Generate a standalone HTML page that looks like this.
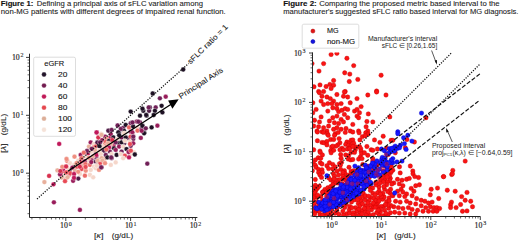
<!DOCTYPE html>
<html><head><meta charset="utf-8"><style>
html,body{margin:0;padding:0;background:#fff;width:520px;height:241px;overflow:hidden}
svg{display:block}
</style></head><body>
<svg width="520" height="241" viewBox="0 0 520 241">
<rect width="520" height="241" fill="#fff"/>
<text x="0.80" y="5.90" font-size="6.3" font-family='"Liberation Sans", sans-serif' fill="#111" textLength="32.60" lengthAdjust="spacingAndGlyphs" font-weight="bold" stroke="#111" stroke-width="0.12">Figure 1:</text>
<text x="36.70" y="5.90" font-size="6.3" font-family='"Liberation Sans", sans-serif' fill="#222" textLength="166.30" lengthAdjust="spacingAndGlyphs" stroke="#222" stroke-width="0.08">Defining a principal axis of sFLC variation among</text>
<text x="0.80" y="14.20" font-size="6.3" font-family='"Liberation Sans", sans-serif' fill="#222" textLength="225.00" lengthAdjust="spacingAndGlyphs" stroke="#222" stroke-width="0.08">non-MG patients with different degrees of impaired renal function.</text>
<text x="283.20" y="5.90" font-size="6.3" font-family='"Liberation Sans", sans-serif' fill="#111" textLength="33.50" lengthAdjust="spacingAndGlyphs" font-weight="bold" stroke="#111" stroke-width="0.12">Figure 2:</text>
<text x="319.20" y="5.90" font-size="6.3" font-family='"Liberation Sans", sans-serif' fill="#222" textLength="180.50" lengthAdjust="spacingAndGlyphs" stroke="#222" stroke-width="0.08">Comparing the proposed metric based interval to the</text>
<text x="283.20" y="14.20" font-size="6.3" font-family='"Liberation Sans", sans-serif' fill="#222" textLength="235.30" lengthAdjust="spacingAndGlyphs" stroke="#222" stroke-width="0.08">manufacturer's suggested sFLC ratio based interval for MG diagnosis.</text>
<defs><clipPath id="rclip"><rect x="312.2" y="52.4" width="168.2" height="163.7"/></clipPath><clipPath id="lclip"><rect x="30" y="53.7" width="167.4" height="163.4"/></clipPath></defs>
<g stroke="#fff" stroke-width="0.35">
<circle cx="49.1" cy="175.9" r="2.4" fill="#d8304f"/>
<circle cx="44.4" cy="182.1" r="2.4" fill="#e8b09c"/>
<circle cx="105.4" cy="146.6" r="2.4" fill="#c0185a"/>
<circle cx="53.5" cy="184.3" r="2.4" fill="#c0185a"/>
<circle cx="57.4" cy="170.4" r="2.4" fill="#e8b09c"/>
<circle cx="63.2" cy="170.2" r="2.4" fill="#c0185a"/>
<circle cx="67.3" cy="161.2" r="2.4" fill="#ef8f80"/>
<circle cx="76.2" cy="167.1" r="2.4" fill="#e84a55"/>
<circle cx="65.9" cy="178.6" r="2.4" fill="#e8b09c"/>
<circle cx="69.4" cy="174.6" r="2.4" fill="#e84a55"/>
<circle cx="69.4" cy="170.4" r="2.4" fill="#4d1b45"/>
<circle cx="53.9" cy="202.3" r="2.4" fill="#981c5a"/>
<circle cx="124.1" cy="143.4" r="2.4" fill="#4d1b45"/>
<circle cx="59.2" cy="143.9" r="2.4" fill="#c0185a"/>
<circle cx="66.5" cy="159.0" r="2.4" fill="#ef8f80"/>
<circle cx="90.7" cy="142.5" r="2.4" fill="#981c5a"/>
<circle cx="94.0" cy="144.1" r="2.4" fill="#f5d6ca"/>
<circle cx="97.3" cy="142.5" r="2.4" fill="#4d1b45"/>
<circle cx="118.7" cy="142.8" r="2.4" fill="#1e1124"/>
<circle cx="89.0" cy="146.6" r="2.4" fill="#e8b09c"/>
<circle cx="94.0" cy="147.5" r="2.4" fill="#ec6a66"/>
<circle cx="80.7" cy="154.9" r="2.4" fill="#981c5a"/>
<circle cx="84.9" cy="156.6" r="2.4" fill="#f5d6ca"/>
<circle cx="88.2" cy="153.3" r="2.4" fill="#c0185a"/>
<circle cx="91.5" cy="151.6" r="2.4" fill="#f5d6ca"/>
<circle cx="96.5" cy="158.2" r="2.4" fill="#701f57"/>
<circle cx="95.7" cy="154.1" r="2.4" fill="#701f57"/>
<circle cx="79.4" cy="163.8" r="2.4" fill="#c0185a"/>
<circle cx="98.2" cy="151.6" r="2.4" fill="#f5d6ca"/>
<circle cx="78.3" cy="160.7" r="2.4" fill="#f5d6ca"/>
<circle cx="81.6" cy="161.6" r="2.4" fill="#d8304f"/>
<circle cx="87.4" cy="160.7" r="2.4" fill="#f5d6ca"/>
<circle cx="91.5" cy="159.1" r="2.4" fill="#981c5a"/>
<circle cx="95.7" cy="161.6" r="2.4" fill="#4d1b45"/>
<circle cx="104.7" cy="144.1" r="2.4" fill="#ef8f80"/>
<circle cx="99.0" cy="159.9" r="2.4" fill="#e8b09c"/>
<circle cx="81.4" cy="158.2" r="2.4" fill="#ec6a66"/>
<circle cx="70.0" cy="163.2" r="2.4" fill="#f5d6ca"/>
<circle cx="74.1" cy="164.9" r="2.4" fill="#f5d6ca"/>
<circle cx="76.6" cy="163.2" r="2.4" fill="#ef8f80"/>
<circle cx="123.2" cy="127.8" r="2.4" fill="#701f57"/>
<circle cx="83.2" cy="165.7" r="2.4" fill="#e8b09c"/>
<circle cx="89.9" cy="164.9" r="2.4" fill="#ec6a66"/>
<circle cx="62.2" cy="173.1" r="2.4" fill="#d8304f"/>
<circle cx="94.0" cy="166.6" r="2.4" fill="#f5d6ca"/>
<circle cx="97.3" cy="164.9" r="2.4" fill="#701f57"/>
<circle cx="68.3" cy="169.0" r="2.4" fill="#f5d6ca"/>
<circle cx="74.9" cy="170.7" r="2.4" fill="#e8b09c"/>
<circle cx="110.2" cy="137.6" r="2.4" fill="#c0185a"/>
<circle cx="81.6" cy="169.0" r="2.4" fill="#e84a55"/>
<circle cx="85.7" cy="170.7" r="2.4" fill="#ef8f80"/>
<circle cx="90.7" cy="169.9" r="2.4" fill="#f5d6ca"/>
<circle cx="62.3" cy="166.9" r="2.4" fill="#ef8f80"/>
<circle cx="95.7" cy="168.2" r="2.4" fill="#f5d6ca"/>
<circle cx="99.0" cy="169.9" r="2.4" fill="#ef8f80"/>
<circle cx="65.0" cy="174.9" r="2.4" fill="#f5d6ca"/>
<circle cx="128.3" cy="138.4" r="2.4" fill="#701f57"/>
<circle cx="70.0" cy="173.2" r="2.4" fill="#e84a55"/>
<circle cx="74.1" cy="174.0" r="2.4" fill="#c0185a"/>
<circle cx="79.9" cy="174.0" r="2.4" fill="#f5d6ca"/>
<circle cx="84.9" cy="175.7" r="2.4" fill="#ec6a66"/>
<circle cx="101.8" cy="149.3" r="2.4" fill="#1e1124"/>
<circle cx="89.9" cy="174.9" r="2.4" fill="#f5d6ca"/>
<circle cx="84.7" cy="161.4" r="2.4" fill="#981c5a"/>
<circle cx="78.3" cy="178.6" r="2.4" fill="#4d1b45"/>
<circle cx="67.5" cy="177.3" r="2.4" fill="#e8b09c"/>
<circle cx="93.2" cy="177.3" r="2.4" fill="#f5d6ca"/>
<circle cx="61.7" cy="177.5" r="2.4" fill="#e8b09c"/>
<circle cx="79.9" cy="209.9" r="2.4" fill="#981c5a"/>
<circle cx="96.7" cy="132.5" r="2.4" fill="#981c5a"/>
<circle cx="73.1" cy="180.8" r="2.4" fill="#981c5a"/>
<circle cx="101.6" cy="134.1" r="2.4" fill="#f5d6ca"/>
<circle cx="109.1" cy="130.8" r="2.4" fill="#701f57"/>
<circle cx="110.8" cy="134.1" r="2.4" fill="#981c5a"/>
<circle cx="119.1" cy="132.5" r="2.4" fill="#4d1b45"/>
<circle cx="124.0" cy="130.8" r="2.4" fill="#1e1124"/>
<circle cx="124.9" cy="134.1" r="2.4" fill="#f5d6ca"/>
<circle cx="88.9" cy="157.8" r="2.4" fill="#ef8f80"/>
<circle cx="130.7" cy="131.7" r="2.4" fill="#981c5a"/>
<circle cx="133.2" cy="135.0" r="2.4" fill="#f5d6ca"/>
<circle cx="98.3" cy="137.5" r="2.4" fill="#d8304f"/>
<circle cx="72.4" cy="167.6" r="2.4" fill="#981c5a"/>
<circle cx="104.6" cy="158.7" r="2.4" fill="#e8b09c"/>
<circle cx="105.0" cy="136.6" r="2.4" fill="#981c5a"/>
<circle cx="102.1" cy="140.1" r="2.4" fill="#981c5a"/>
<circle cx="78.2" cy="171.8" r="2.4" fill="#ef8f80"/>
<circle cx="113.3" cy="137.5" r="2.4" fill="#1e1124"/>
<circle cx="117.4" cy="139.1" r="2.4" fill="#f5d6ca"/>
<circle cx="121.6" cy="137.5" r="2.4" fill="#701f57"/>
<circle cx="125.7" cy="137.5" r="2.4" fill="#1e1124"/>
<circle cx="130.7" cy="136.6" r="2.4" fill="#e84a55"/>
<circle cx="106.4" cy="138.9" r="2.4" fill="#ef8f80"/>
<circle cx="133.2" cy="139.1" r="2.4" fill="#701f57"/>
<circle cx="100.0" cy="142.4" r="2.4" fill="#701f57"/>
<circle cx="105.8" cy="141.6" r="2.4" fill="#ec6a66"/>
<circle cx="113.5" cy="145.5" r="2.4" fill="#c0185a"/>
<circle cx="85.5" cy="164.1" r="2.4" fill="#ec6a66"/>
<circle cx="74.0" cy="177.9" r="2.4" fill="#c0185a"/>
<circle cx="60.0" cy="174.4" r="2.4" fill="#981c5a"/>
<circle cx="109.1" cy="140.8" r="2.4" fill="#1e1124"/>
<circle cx="110.8" cy="144.1" r="2.4" fill="#e8b09c"/>
<circle cx="115.7" cy="142.4" r="2.4" fill="#701f57"/>
<circle cx="121.6" cy="142.4" r="2.4" fill="#1e1124"/>
<circle cx="91.3" cy="162.1" r="2.4" fill="#981c5a"/>
<circle cx="124.9" cy="140.8" r="2.4" fill="#f5d6ca"/>
<circle cx="129.9" cy="141.6" r="2.4" fill="#f5d6ca"/>
<circle cx="133.2" cy="143.3" r="2.4" fill="#981c5a"/>
<circle cx="95.8" cy="146.6" r="2.4" fill="#e84a55"/>
<circle cx="102.5" cy="146.6" r="2.4" fill="#f5d6ca"/>
<circle cx="109.1" cy="147.4" r="2.4" fill="#c0185a"/>
<circle cx="99.5" cy="146.2" r="2.4" fill="#1e1124"/>
<circle cx="114.1" cy="148.3" r="2.4" fill="#1e1124"/>
<circle cx="119.1" cy="146.6" r="2.4" fill="#981c5a"/>
<circle cx="123.2" cy="146.6" r="2.4" fill="#f5d6ca"/>
<circle cx="117.6" cy="125.4" r="2.4" fill="#701f57"/>
<circle cx="126.5" cy="149.1" r="2.4" fill="#1e1124"/>
<circle cx="130.7" cy="145.8" r="2.4" fill="#701f57"/>
<circle cx="93.2" cy="156.1" r="2.4" fill="#e8b09c"/>
<circle cx="99.1" cy="150.7" r="2.4" fill="#f5d6ca"/>
<circle cx="104.1" cy="150.7" r="2.4" fill="#4d1b45"/>
<circle cx="109.9" cy="151.6" r="2.4" fill="#701f57"/>
<circle cx="115.7" cy="149.9" r="2.4" fill="#981c5a"/>
<circle cx="121.6" cy="151.6" r="2.4" fill="#701f57"/>
<circle cx="74.5" cy="156.7" r="2.4" fill="#ef8f80"/>
<circle cx="129.0" cy="151.6" r="2.4" fill="#e84a55"/>
<circle cx="134.0" cy="152.4" r="2.4" fill="#f5d6ca"/>
<circle cx="96.7" cy="154.9" r="2.4" fill="#c0185a"/>
<circle cx="100.8" cy="154.1" r="2.4" fill="#f5d6ca"/>
<circle cx="105.8" cy="154.9" r="2.4" fill="#701f57"/>
<circle cx="111.6" cy="154.1" r="2.4" fill="#f5d6ca"/>
<circle cx="116.6" cy="154.9" r="2.4" fill="#1e1124"/>
<circle cx="120.7" cy="154.1" r="2.4" fill="#f5d6ca"/>
<circle cx="124.9" cy="155.7" r="2.4" fill="#e84a55"/>
<circle cx="129.9" cy="154.9" r="2.4" fill="#f5d6ca"/>
<circle cx="101.6" cy="158.2" r="2.4" fill="#e8b09c"/>
<circle cx="87.0" cy="151.0" r="2.4" fill="#701f57"/>
<circle cx="66.1" cy="166.5" r="2.4" fill="#d8304f"/>
<circle cx="107.4" cy="157.4" r="2.4" fill="#1e1124"/>
<circle cx="111.6" cy="158.2" r="2.4" fill="#701f57"/>
<circle cx="123.2" cy="158.2" r="2.4" fill="#f5d6ca"/>
<circle cx="129.0" cy="157.4" r="2.4" fill="#c0185a"/>
<circle cx="134.8" cy="154.5" r="2.4" fill="#1e1124"/>
<circle cx="97.5" cy="160.7" r="2.4" fill="#e8b09c"/>
<circle cx="102.5" cy="160.7" r="2.4" fill="#e8b09c"/>
<circle cx="105.0" cy="163.2" r="2.4" fill="#ef8f80"/>
<circle cx="100.0" cy="164.0" r="2.4" fill="#e84a55"/>
<circle cx="96.7" cy="165.7" r="2.4" fill="#f5d6ca"/>
<circle cx="108.0" cy="143.2" r="2.4" fill="#e8b09c"/>
<circle cx="101.6" cy="167.3" r="2.4" fill="#701f57"/>
<circle cx="110.8" cy="164.9" r="2.4" fill="#f5d6ca"/>
<circle cx="115.7" cy="162.4" r="2.4" fill="#f5d6ca"/>
<circle cx="147.3" cy="163.7" r="2.4" fill="#701f57"/>
<circle cx="128.6" cy="152.0" r="2.4" fill="#981c5a"/>
<circle cx="101.2" cy="167.4" r="2.4" fill="#701f57"/>
<circle cx="94.9" cy="150.0" r="2.4" fill="#e8b09c"/>
<circle cx="111.2" cy="157.5" r="2.4" fill="#701f57"/>
<circle cx="130.7" cy="111.6" r="2.4" fill="#1e1124"/>
<circle cx="125.7" cy="124.9" r="2.4" fill="#1e1124"/>
<circle cx="130.7" cy="123.2" r="2.4" fill="#701f57"/>
<circle cx="129.0" cy="127.4" r="2.4" fill="#ec6a66"/>
<circle cx="133.2" cy="126.5" r="2.4" fill="#1e1124"/>
<circle cx="137.3" cy="127.4" r="2.4" fill="#f5d6ca"/>
<circle cx="120.7" cy="129.0" r="2.4" fill="#701f57"/>
<circle cx="108.3" cy="130.7" r="2.4" fill="#4d1b45"/>
<circle cx="111.6" cy="129.9" r="2.4" fill="#701f57"/>
<circle cx="118.3" cy="132.3" r="2.4" fill="#1e1124"/>
<circle cx="124.1" cy="133.2" r="2.4" fill="#f5d6ca"/>
<circle cx="132.4" cy="132.3" r="2.4" fill="#981c5a"/>
<circle cx="100.8" cy="134.0" r="2.4" fill="#f5d6ca"/>
<circle cx="119.2" cy="135.2" r="2.4" fill="#1e1124"/>
<circle cx="96.6" cy="132.4" r="2.4" fill="#c0185a"/>
<circle cx="101.5" cy="134.9" r="2.4" fill="#e8b09c"/>
<circle cx="159.9" cy="98.3" r="2.4" fill="#701f57"/>
<circle cx="165.7" cy="96.7" r="2.4" fill="#981c5a"/>
<circle cx="161.6" cy="105.8" r="2.4" fill="#1e1124"/>
<circle cx="149.9" cy="107.4" r="2.4" fill="#4d1b45"/>
<circle cx="155.7" cy="107.4" r="2.4" fill="#701f57"/>
<circle cx="143.3" cy="110.8" r="2.4" fill="#1e1124"/>
<circle cx="149.1" cy="110.8" r="2.4" fill="#4d1b45"/>
<circle cx="79.8" cy="166.7" r="2.4" fill="#d8304f"/>
<circle cx="154.9" cy="110.8" r="2.4" fill="#1e1124"/>
<circle cx="91.7" cy="148.8" r="2.4" fill="#701f57"/>
<circle cx="162.4" cy="112.4" r="2.4" fill="#1e1124"/>
<circle cx="140.0" cy="115.7" r="2.4" fill="#1e1124"/>
<circle cx="146.6" cy="115.7" r="2.4" fill="#1e1124"/>
<circle cx="112.2" cy="140.0" r="2.4" fill="#d8304f"/>
<circle cx="136.7" cy="121.6" r="2.4" fill="#981c5a"/>
<circle cx="65.0" cy="181.2" r="2.4" fill="#e84a55"/>
<circle cx="140.0" cy="122.4" r="2.4" fill="#701f57"/>
<circle cx="60.3" cy="171.1" r="2.4" fill="#d8304f"/>
<circle cx="142.5" cy="125.7" r="2.4" fill="#4d1b45"/>
<circle cx="151.6" cy="127.4" r="2.4" fill="#1e1124"/>
<circle cx="157.4" cy="125.7" r="2.4" fill="#981c5a"/>
<circle cx="137.5" cy="130.7" r="2.4" fill="#ec6a66"/>
<circle cx="141.6" cy="129.0" r="2.4" fill="#701f57"/>
<circle cx="144.1" cy="132.3" r="2.4" fill="#1e1124"/>
<circle cx="183.2" cy="69.5" r="2.4" fill="#1e1124"/>
<circle cx="152.7" cy="93.5" r="2.4" fill="#1e1124"/>
<circle cx="106.4" cy="149.5" r="2.4" fill="#ec6a66"/>
<circle cx="83.8" cy="152.7" r="2.4" fill="#ec6a66"/>
<circle cx="142.5" cy="108.7" r="2.4" fill="#1e1124"/>
<circle cx="85.6" cy="166.9" r="2.4" fill="#e84a55"/>
<circle cx="148.7" cy="107.4" r="2.4" fill="#701f57"/>
<circle cx="146.2" cy="115.0" r="2.4" fill="#1e1124"/>
<circle cx="66.3" cy="172.4" r="2.4" fill="#e84a55"/>
<circle cx="153.7" cy="115.0" r="2.4" fill="#1e1124"/>
<circle cx="140.8" cy="137.9" r="2.4" fill="#981c5a"/>
<circle cx="144.1" cy="133.3" r="2.4" fill="#1e1124"/>
<circle cx="141.6" cy="130.8" r="2.4" fill="#981c5a"/>
<circle cx="133.3" cy="136.6" r="2.4" fill="#701f57"/>
<circle cx="130.0" cy="144.1" r="2.4" fill="#e84a55"/>
<circle cx="130.8" cy="150.7" r="2.4" fill="#e84a55"/>
<circle cx="132.5" cy="122.5" r="2.4" fill="#701f57"/>
<circle cx="138.3" cy="121.7" r="2.4" fill="#701f57"/>
<circle cx="142.4" cy="125.8" r="2.4" fill="#1e1124"/>
<circle cx="145.8" cy="128.3" r="2.4" fill="#701f57"/>
</g>
<line x1="37.00" y1="198.93" x2="188.60" y2="63.48" stroke="#111" stroke-width="1.3" stroke-dasharray="1.2 1.4"/>
<text font-size="7.6" font-family='"Liberation Sans", sans-serif' fill="#1a1a1a" stroke="#1a1a1a" stroke-width="0.1" textLength="53" lengthAdjust="spacingAndGlyphs" transform="translate(190.6 64.6) rotate(-44.5)">sFLC ratio = 1</text>
<line x1="68.6" y1="170.7" x2="171.5" y2="104.0" stroke="#000" stroke-width="1.3"/>
<path d="M178.7 99.3 L168.1 100.6 L172.4 108.7 Z" fill="#000"/>
<text font-size="7.6" font-family='"Liberation Sans", sans-serif' fill="#1a1a1a" stroke="#1a1a1a" stroke-width="0.1" textLength="51" lengthAdjust="spacingAndGlyphs" transform="translate(180.8 99.2) rotate(-33)">Principal Axis</text>
<g clip-path="url(#rclip)">
<circle cx="331.1" cy="54.5" r="2.2" fill="#fa1414" stroke="#c80000" stroke-width="0.4"/>
<circle cx="336.9" cy="53.3" r="2.2" fill="#fa1414" stroke="#c80000" stroke-width="0.4"/>
<circle cx="346.9" cy="58.3" r="2.2" fill="#fa1414" stroke="#c80000" stroke-width="0.4"/>
<circle cx="312.0" cy="63.6" r="2.2" fill="#fa1414" stroke="#c80000" stroke-width="0.4"/>
<circle cx="323.6" cy="63.6" r="2.2" fill="#fa1414" stroke="#c80000" stroke-width="0.4"/>
<circle cx="319.0" cy="71.1" r="2.2" fill="#fa1414" stroke="#c80000" stroke-width="0.4"/>
<circle cx="344.7" cy="72.8" r="2.2" fill="#fa1414" stroke="#c80000" stroke-width="0.4"/>
<circle cx="349.8" cy="74.1" r="2.2" fill="#fa1414" stroke="#c80000" stroke-width="0.4"/>
<circle cx="333.6" cy="80.5" r="2.2" fill="#fa1414" stroke="#c80000" stroke-width="0.4"/>
<circle cx="349.3" cy="81.5" r="2.2" fill="#fa1414" stroke="#c80000" stroke-width="0.4"/>
<circle cx="314.0" cy="86.8" r="2.2" fill="#fa1414" stroke="#c80000" stroke-width="0.4"/>
<circle cx="320.0" cy="84.9" r="2.2" fill="#fa1414" stroke="#c80000" stroke-width="0.4"/>
<circle cx="326.1" cy="86.5" r="2.2" fill="#fa1414" stroke="#c80000" stroke-width="0.4"/>
<circle cx="329.9" cy="84.4" r="2.2" fill="#fa1414" stroke="#c80000" stroke-width="0.4"/>
<circle cx="333.6" cy="85.2" r="2.2" fill="#fa1414" stroke="#c80000" stroke-width="0.4"/>
<circle cx="331.1" cy="88.5" r="2.2" fill="#fa1414" stroke="#c80000" stroke-width="0.4"/>
<circle cx="318.6" cy="91.5" r="2.2" fill="#fa1414" stroke="#c80000" stroke-width="0.4"/>
<circle cx="323.6" cy="91.5" r="2.2" fill="#fa1414" stroke="#c80000" stroke-width="0.4"/>
<circle cx="345.2" cy="91.5" r="2.2" fill="#fa1414" stroke="#c80000" stroke-width="0.4"/>
<circle cx="353.7" cy="65.6" r="2.2" fill="#fa1414" stroke="#c80000" stroke-width="0.4"/>
<circle cx="357.8" cy="79.4" r="2.2" fill="#fa1414" stroke="#c80000" stroke-width="0.4"/>
<circle cx="381.1" cy="75.2" r="2.2" fill="#fa1414" stroke="#c80000" stroke-width="0.4"/>
<circle cx="376.6" cy="91.0" r="2.2" fill="#fa1414" stroke="#c80000" stroke-width="0.4"/>
<circle cx="319.5" cy="92.8" r="2.2" fill="#fa1414" stroke="#c80000" stroke-width="0.4"/>
<circle cx="322.0" cy="96.2" r="2.2" fill="#fa1414" stroke="#c80000" stroke-width="0.4"/>
<circle cx="336.9" cy="94.5" r="2.2" fill="#fa1414" stroke="#c80000" stroke-width="0.4"/>
<circle cx="344.4" cy="92.0" r="2.2" fill="#fa1414" stroke="#c80000" stroke-width="0.4"/>
<circle cx="343.5" cy="96.2" r="2.2" fill="#fa1414" stroke="#c80000" stroke-width="0.4"/>
<circle cx="347.7" cy="97.0" r="2.2" fill="#fa1414" stroke="#c80000" stroke-width="0.4"/>
<circle cx="312.8" cy="102.8" r="2.2" fill="#fa1414" stroke="#c80000" stroke-width="0.4"/>
<circle cx="321.1" cy="101.1" r="2.2" fill="#fa1414" stroke="#c80000" stroke-width="0.4"/>
<circle cx="326.9" cy="97.0" r="2.2" fill="#fa1414" stroke="#c80000" stroke-width="0.4"/>
<circle cx="330.3" cy="98.6" r="2.2" fill="#fa1414" stroke="#c80000" stroke-width="0.4"/>
<circle cx="333.6" cy="101.1" r="2.2" fill="#fa1414" stroke="#c80000" stroke-width="0.4"/>
<circle cx="323.6" cy="104.5" r="2.2" fill="#fa1414" stroke="#c80000" stroke-width="0.4"/>
<circle cx="327.8" cy="103.6" r="2.2" fill="#fa1414" stroke="#c80000" stroke-width="0.4"/>
<circle cx="331.9" cy="103.6" r="2.2" fill="#fa1414" stroke="#c80000" stroke-width="0.4"/>
<circle cx="336.9" cy="104.5" r="2.2" fill="#fa1414" stroke="#c80000" stroke-width="0.4"/>
<circle cx="341.1" cy="103.6" r="2.2" fill="#fa1414" stroke="#c80000" stroke-width="0.4"/>
<circle cx="350.2" cy="102.8" r="2.2" fill="#fa1414" stroke="#c80000" stroke-width="0.4"/>
<circle cx="316.1" cy="109.4" r="2.2" fill="#fa1414" stroke="#c80000" stroke-width="0.4"/>
<circle cx="312.8" cy="112.8" r="2.2" fill="#fa1414" stroke="#c80000" stroke-width="0.4"/>
<circle cx="327.8" cy="111.1" r="2.2" fill="#fa1414" stroke="#c80000" stroke-width="0.4"/>
<circle cx="332.8" cy="107.8" r="2.2" fill="#fa1414" stroke="#c80000" stroke-width="0.4"/>
<circle cx="336.9" cy="108.6" r="2.2" fill="#fa1414" stroke="#c80000" stroke-width="0.4"/>
<circle cx="338.6" cy="111.6" r="2.2" fill="#fa1414" stroke="#c80000" stroke-width="0.4"/>
<circle cx="341.9" cy="110.3" r="2.2" fill="#fa1414" stroke="#c80000" stroke-width="0.4"/>
<circle cx="345.2" cy="108.6" r="2.2" fill="#fa1414" stroke="#c80000" stroke-width="0.4"/>
<circle cx="347.7" cy="109.4" r="2.2" fill="#fa1414" stroke="#c80000" stroke-width="0.4"/>
<circle cx="344.4" cy="114.4" r="2.2" fill="#fa1414" stroke="#c80000" stroke-width="0.4"/>
<circle cx="321.1" cy="116.9" r="2.2" fill="#fa1414" stroke="#c80000" stroke-width="0.4"/>
<circle cx="332.8" cy="117.7" r="2.2" fill="#fa1414" stroke="#c80000" stroke-width="0.4"/>
<circle cx="336.9" cy="116.1" r="2.2" fill="#fa1414" stroke="#c80000" stroke-width="0.4"/>
<circle cx="341.1" cy="119.4" r="2.2" fill="#fa1414" stroke="#c80000" stroke-width="0.4"/>
<circle cx="347.7" cy="117.7" r="2.2" fill="#fa1414" stroke="#c80000" stroke-width="0.4"/>
<circle cx="314.5" cy="120.2" r="2.2" fill="#fa1414" stroke="#c80000" stroke-width="0.4"/>
<circle cx="319.5" cy="121.9" r="2.2" fill="#fa1414" stroke="#c80000" stroke-width="0.4"/>
<circle cx="329.4" cy="121.0" r="2.2" fill="#fa1414" stroke="#c80000" stroke-width="0.4"/>
<circle cx="334.4" cy="122.7" r="2.2" fill="#fa1414" stroke="#c80000" stroke-width="0.4"/>
<circle cx="338.6" cy="123.5" r="2.2" fill="#fa1414" stroke="#c80000" stroke-width="0.4"/>
<circle cx="343.5" cy="121.9" r="2.2" fill="#fa1414" stroke="#c80000" stroke-width="0.4"/>
<circle cx="313.7" cy="126.0" r="2.2" fill="#fa1414" stroke="#c80000" stroke-width="0.4"/>
<circle cx="318.6" cy="126.8" r="2.2" fill="#fa1414" stroke="#c80000" stroke-width="0.4"/>
<circle cx="323.6" cy="127.7" r="2.2" fill="#fa1414" stroke="#c80000" stroke-width="0.4"/>
<circle cx="328.6" cy="126.0" r="2.2" fill="#fa1414" stroke="#c80000" stroke-width="0.4"/>
<circle cx="333.6" cy="129.3" r="2.2" fill="#fa1414" stroke="#c80000" stroke-width="0.4"/>
<circle cx="336.9" cy="127.7" r="2.2" fill="#fa1414" stroke="#c80000" stroke-width="0.4"/>
<circle cx="341.1" cy="129.3" r="2.2" fill="#fa1414" stroke="#c80000" stroke-width="0.4"/>
<circle cx="346.0" cy="128.5" r="2.2" fill="#fa1414" stroke="#c80000" stroke-width="0.4"/>
<circle cx="350.2" cy="131.0" r="2.2" fill="#fa1414" stroke="#c80000" stroke-width="0.4"/>
<circle cx="317.0" cy="131.0" r="2.2" fill="#fa1414" stroke="#c80000" stroke-width="0.4"/>
<circle cx="326.9" cy="131.0" r="2.2" fill="#fa1414" stroke="#c80000" stroke-width="0.4"/>
<circle cx="322.0" cy="131.8" r="2.2" fill="#fa1414" stroke="#c80000" stroke-width="0.4"/>
<circle cx="367.8" cy="95.0" r="2.2" fill="#fa1414" stroke="#c80000" stroke-width="0.4"/>
<circle cx="376.6" cy="92.0" r="2.2" fill="#fa1414" stroke="#c80000" stroke-width="0.4"/>
<circle cx="386.0" cy="95.0" r="2.2" fill="#fa1414" stroke="#c80000" stroke-width="0.4"/>
<circle cx="357.0" cy="98.6" r="2.2" fill="#fa1414" stroke="#c80000" stroke-width="0.4"/>
<circle cx="361.1" cy="106.6" r="2.2" fill="#fa1414" stroke="#c80000" stroke-width="0.4"/>
<circle cx="354.5" cy="111.1" r="2.2" fill="#fa1414" stroke="#c80000" stroke-width="0.4"/>
<circle cx="357.0" cy="109.4" r="2.2" fill="#fa1414" stroke="#c80000" stroke-width="0.4"/>
<circle cx="359.5" cy="112.8" r="2.2" fill="#fa1414" stroke="#c80000" stroke-width="0.4"/>
<circle cx="357.0" cy="116.1" r="2.2" fill="#fa1414" stroke="#c80000" stroke-width="0.4"/>
<circle cx="358.6" cy="117.7" r="2.2" fill="#fa1414" stroke="#c80000" stroke-width="0.4"/>
<circle cx="368.3" cy="113.9" r="2.2" fill="#fa1414" stroke="#c80000" stroke-width="0.4"/>
<circle cx="389.8" cy="116.9" r="2.2" fill="#fa1414" stroke="#c80000" stroke-width="0.4"/>
<circle cx="366.9" cy="121.5" r="2.2" fill="#fa1414" stroke="#c80000" stroke-width="0.4"/>
<circle cx="372.8" cy="121.9" r="2.2" fill="#fa1414" stroke="#c80000" stroke-width="0.4"/>
<circle cx="352.8" cy="124.4" r="2.2" fill="#fa1414" stroke="#c80000" stroke-width="0.4"/>
<circle cx="366.1" cy="126.8" r="2.2" fill="#fa1414" stroke="#c80000" stroke-width="0.4"/>
<circle cx="358.6" cy="131.0" r="2.2" fill="#fa1414" stroke="#c80000" stroke-width="0.4"/>
<circle cx="367.8" cy="131.0" r="2.2" fill="#fa1414" stroke="#c80000" stroke-width="0.4"/>
<circle cx="426.0" cy="117.7" r="2.2" fill="#fa1414" stroke="#c80000" stroke-width="0.4"/>
<circle cx="317.4" cy="132.0" r="2.2" fill="#fa1414" stroke="#c80000" stroke-width="0.4"/>
<circle cx="323.6" cy="132.4" r="2.2" fill="#fa1414" stroke="#c80000" stroke-width="0.4"/>
<circle cx="327.4" cy="133.7" r="2.2" fill="#fa1414" stroke="#c80000" stroke-width="0.4"/>
<circle cx="328.2" cy="135.3" r="2.2" fill="#fa1414" stroke="#c80000" stroke-width="0.4"/>
<circle cx="330.7" cy="139.5" r="2.2" fill="#fa1414" stroke="#c80000" stroke-width="0.4"/>
<circle cx="317.4" cy="140.7" r="2.2" fill="#fa1414" stroke="#c80000" stroke-width="0.4"/>
<circle cx="322.0" cy="142.4" r="2.2" fill="#fa1414" stroke="#c80000" stroke-width="0.4"/>
<circle cx="324.0" cy="142.8" r="2.2" fill="#fa1414" stroke="#c80000" stroke-width="0.4"/>
<circle cx="326.9" cy="141.5" r="2.2" fill="#fa1414" stroke="#c80000" stroke-width="0.4"/>
<circle cx="326.9" cy="144.9" r="2.2" fill="#fa1414" stroke="#c80000" stroke-width="0.4"/>
<circle cx="313.7" cy="149.8" r="2.2" fill="#fa1414" stroke="#c80000" stroke-width="0.4"/>
<circle cx="319.9" cy="151.1" r="2.2" fill="#fa1414" stroke="#c80000" stroke-width="0.4"/>
<circle cx="330.7" cy="150.7" r="2.2" fill="#fa1414" stroke="#c80000" stroke-width="0.4"/>
<circle cx="331.5" cy="146.9" r="2.2" fill="#fa1414" stroke="#c80000" stroke-width="0.4"/>
<circle cx="335.3" cy="133.7" r="2.2" fill="#fa1414" stroke="#c80000" stroke-width="0.4"/>
<circle cx="338.2" cy="132.4" r="2.2" fill="#fa1414" stroke="#c80000" stroke-width="0.4"/>
<circle cx="345.3" cy="132.4" r="2.2" fill="#fa1414" stroke="#c80000" stroke-width="0.4"/>
<circle cx="334.5" cy="135.3" r="2.2" fill="#fa1414" stroke="#c80000" stroke-width="0.4"/>
<circle cx="333.7" cy="139.5" r="2.2" fill="#fa1414" stroke="#c80000" stroke-width="0.4"/>
<circle cx="339.1" cy="138.6" r="2.2" fill="#fa1414" stroke="#c80000" stroke-width="0.4"/>
<circle cx="339.9" cy="142.8" r="2.2" fill="#fa1414" stroke="#c80000" stroke-width="0.4"/>
<circle cx="337.8" cy="144.9" r="2.2" fill="#fa1414" stroke="#c80000" stroke-width="0.4"/>
<circle cx="336.1" cy="146.1" r="2.2" fill="#fa1414" stroke="#c80000" stroke-width="0.4"/>
<circle cx="332.8" cy="146.1" r="2.2" fill="#fa1414" stroke="#c80000" stroke-width="0.4"/>
<circle cx="346.9" cy="142.0" r="2.2" fill="#fa1414" stroke="#c80000" stroke-width="0.4"/>
<circle cx="349.4" cy="142.8" r="2.2" fill="#fa1414" stroke="#c80000" stroke-width="0.4"/>
<circle cx="351.1" cy="140.3" r="2.2" fill="#fa1414" stroke="#c80000" stroke-width="0.4"/>
<circle cx="345.7" cy="144.4" r="2.2" fill="#fa1414" stroke="#c80000" stroke-width="0.4"/>
<circle cx="348.6" cy="145.3" r="2.2" fill="#fa1414" stroke="#c80000" stroke-width="0.4"/>
<circle cx="351.1" cy="146.1" r="2.2" fill="#fa1414" stroke="#c80000" stroke-width="0.4"/>
<circle cx="342.0" cy="148.2" r="2.2" fill="#fa1414" stroke="#c80000" stroke-width="0.4"/>
<circle cx="339.9" cy="149.8" r="2.2" fill="#fa1414" stroke="#c80000" stroke-width="0.4"/>
<circle cx="343.6" cy="149.8" r="2.2" fill="#fa1414" stroke="#c80000" stroke-width="0.4"/>
<circle cx="347.4" cy="149.0" r="2.2" fill="#fa1414" stroke="#c80000" stroke-width="0.4"/>
<circle cx="349.8" cy="148.6" r="2.2" fill="#fa1414" stroke="#c80000" stroke-width="0.4"/>
<circle cx="333.7" cy="150.3" r="2.2" fill="#fa1414" stroke="#c80000" stroke-width="0.4"/>
<circle cx="320.3" cy="152.4" r="2.2" fill="#fa1414" stroke="#c80000" stroke-width="0.4"/>
<circle cx="322.4" cy="154.9" r="2.2" fill="#fa1414" stroke="#c80000" stroke-width="0.4"/>
<circle cx="331.1" cy="152.8" r="2.2" fill="#fa1414" stroke="#c80000" stroke-width="0.4"/>
<circle cx="318.2" cy="157.8" r="2.2" fill="#fa1414" stroke="#c80000" stroke-width="0.4"/>
<circle cx="320.7" cy="158.2" r="2.2" fill="#fa1414" stroke="#c80000" stroke-width="0.4"/>
<circle cx="315.3" cy="159.9" r="2.2" fill="#fa1414" stroke="#c80000" stroke-width="0.4"/>
<circle cx="313.2" cy="162.4" r="2.2" fill="#fa1414" stroke="#c80000" stroke-width="0.4"/>
<circle cx="320.3" cy="162.8" r="2.2" fill="#fa1414" stroke="#c80000" stroke-width="0.4"/>
<circle cx="322.0" cy="164.0" r="2.2" fill="#fa1414" stroke="#c80000" stroke-width="0.4"/>
<circle cx="329.4" cy="162.8" r="2.2" fill="#fa1414" stroke="#c80000" stroke-width="0.4"/>
<circle cx="326.9" cy="165.7" r="2.2" fill="#fa1414" stroke="#c80000" stroke-width="0.4"/>
<circle cx="315.3" cy="165.3" r="2.2" fill="#fa1414" stroke="#c80000" stroke-width="0.4"/>
<circle cx="316.1" cy="167.3" r="2.2" fill="#fa1414" stroke="#c80000" stroke-width="0.4"/>
<circle cx="318.6" cy="169.4" r="2.2" fill="#fa1414" stroke="#c80000" stroke-width="0.4"/>
<circle cx="322.0" cy="169.8" r="2.2" fill="#fa1414" stroke="#c80000" stroke-width="0.4"/>
<circle cx="328.6" cy="168.6" r="2.2" fill="#fa1414" stroke="#c80000" stroke-width="0.4"/>
<circle cx="312.4" cy="170.7" r="2.2" fill="#fa1414" stroke="#c80000" stroke-width="0.4"/>
<circle cx="340.7" cy="154.5" r="2.2" fill="#fa1414" stroke="#c80000" stroke-width="0.4"/>
<circle cx="345.7" cy="154.9" r="2.2" fill="#fa1414" stroke="#c80000" stroke-width="0.4"/>
<circle cx="348.6" cy="155.7" r="2.2" fill="#fa1414" stroke="#c80000" stroke-width="0.4"/>
<circle cx="351.1" cy="152.4" r="2.2" fill="#fa1414" stroke="#c80000" stroke-width="0.4"/>
<circle cx="341.1" cy="158.2" r="2.2" fill="#fa1414" stroke="#c80000" stroke-width="0.4"/>
<circle cx="348.2" cy="159.1" r="2.2" fill="#fa1414" stroke="#c80000" stroke-width="0.4"/>
<circle cx="350.7" cy="159.9" r="2.2" fill="#fa1414" stroke="#c80000" stroke-width="0.4"/>
<circle cx="332.8" cy="164.4" r="2.2" fill="#fa1414" stroke="#c80000" stroke-width="0.4"/>
<circle cx="339.5" cy="163.6" r="2.2" fill="#fa1414" stroke="#c80000" stroke-width="0.4"/>
<circle cx="341.5" cy="162.4" r="2.2" fill="#fa1414" stroke="#c80000" stroke-width="0.4"/>
<circle cx="340.3" cy="165.3" r="2.2" fill="#fa1414" stroke="#c80000" stroke-width="0.4"/>
<circle cx="349.0" cy="167.3" r="2.2" fill="#fa1414" stroke="#c80000" stroke-width="0.4"/>
<circle cx="335.3" cy="166.9" r="2.2" fill="#fa1414" stroke="#c80000" stroke-width="0.4"/>
<circle cx="332.8" cy="169.0" r="2.2" fill="#fa1414" stroke="#c80000" stroke-width="0.4"/>
<circle cx="340.7" cy="169.4" r="2.2" fill="#fa1414" stroke="#c80000" stroke-width="0.4"/>
<circle cx="344.4" cy="170.7" r="2.2" fill="#fa1414" stroke="#c80000" stroke-width="0.4"/>
<circle cx="351.1" cy="171.1" r="2.2" fill="#fa1414" stroke="#c80000" stroke-width="0.4"/>
<circle cx="337.0" cy="171.1" r="2.2" fill="#fa1414" stroke="#c80000" stroke-width="0.4"/>
<circle cx="352.8" cy="132.0" r="2.2" fill="#fa1414" stroke="#c80000" stroke-width="0.4"/>
<circle cx="359.1" cy="132.8" r="2.2" fill="#fa1414" stroke="#c80000" stroke-width="0.4"/>
<circle cx="365.7" cy="132.8" r="2.2" fill="#fa1414" stroke="#c80000" stroke-width="0.4"/>
<circle cx="368.2" cy="134.1" r="2.2" fill="#fa1414" stroke="#c80000" stroke-width="0.4"/>
<circle cx="362.4" cy="136.6" r="2.2" fill="#fa1414" stroke="#c80000" stroke-width="0.4"/>
<circle cx="365.3" cy="135.7" r="2.2" fill="#fa1414" stroke="#c80000" stroke-width="0.4"/>
<circle cx="359.9" cy="139.9" r="2.2" fill="#fa1414" stroke="#c80000" stroke-width="0.4"/>
<circle cx="352.8" cy="139.9" r="2.2" fill="#fa1414" stroke="#c80000" stroke-width="0.4"/>
<circle cx="353.7" cy="143.2" r="2.2" fill="#fa1414" stroke="#c80000" stroke-width="0.4"/>
<circle cx="356.1" cy="146.9" r="2.2" fill="#fa1414" stroke="#c80000" stroke-width="0.4"/>
<circle cx="359.5" cy="146.5" r="2.2" fill="#fa1414" stroke="#c80000" stroke-width="0.4"/>
<circle cx="360.7" cy="148.6" r="2.2" fill="#fa1414" stroke="#c80000" stroke-width="0.4"/>
<circle cx="366.9" cy="146.5" r="2.2" fill="#fa1414" stroke="#c80000" stroke-width="0.4"/>
<circle cx="352.8" cy="146.5" r="2.2" fill="#fa1414" stroke="#c80000" stroke-width="0.4"/>
<circle cx="355.3" cy="149.8" r="2.2" fill="#fa1414" stroke="#c80000" stroke-width="0.4"/>
<circle cx="361.1" cy="151.1" r="2.2" fill="#fa1414" stroke="#c80000" stroke-width="0.4"/>
<circle cx="371.1" cy="149.8" r="2.2" fill="#fa1414" stroke="#c80000" stroke-width="0.4"/>
<circle cx="383.2" cy="136.2" r="2.2" fill="#fa1414" stroke="#c80000" stroke-width="0.4"/>
<circle cx="374.5" cy="139.9" r="2.2" fill="#fa1414" stroke="#c80000" stroke-width="0.4"/>
<circle cx="379.9" cy="142.4" r="2.2" fill="#fa1414" stroke="#c80000" stroke-width="0.4"/>
<circle cx="391.1" cy="140.3" r="2.2" fill="#fa1414" stroke="#c80000" stroke-width="0.4"/>
<circle cx="377.4" cy="149.0" r="2.2" fill="#fa1414" stroke="#c80000" stroke-width="0.4"/>
<circle cx="372.8" cy="150.3" r="2.2" fill="#fa1414" stroke="#c80000" stroke-width="0.4"/>
<circle cx="386.5" cy="148.2" r="2.2" fill="#fa1414" stroke="#c80000" stroke-width="0.4"/>
<circle cx="354.5" cy="152.4" r="2.2" fill="#fa1414" stroke="#c80000" stroke-width="0.4"/>
<circle cx="361.5" cy="153.7" r="2.2" fill="#fa1414" stroke="#c80000" stroke-width="0.4"/>
<circle cx="364.4" cy="152.8" r="2.2" fill="#fa1414" stroke="#c80000" stroke-width="0.4"/>
<circle cx="367.8" cy="155.3" r="2.2" fill="#fa1414" stroke="#c80000" stroke-width="0.4"/>
<circle cx="360.3" cy="157.0" r="2.2" fill="#fa1414" stroke="#c80000" stroke-width="0.4"/>
<circle cx="358.6" cy="159.1" r="2.2" fill="#fa1414" stroke="#c80000" stroke-width="0.4"/>
<circle cx="362.0" cy="158.6" r="2.2" fill="#fa1414" stroke="#c80000" stroke-width="0.4"/>
<circle cx="352.8" cy="159.5" r="2.2" fill="#fa1414" stroke="#c80000" stroke-width="0.4"/>
<circle cx="362.8" cy="164.4" r="2.2" fill="#fa1414" stroke="#c80000" stroke-width="0.4"/>
<circle cx="353.7" cy="170.7" r="2.2" fill="#fa1414" stroke="#c80000" stroke-width="0.4"/>
<circle cx="357.8" cy="169.8" r="2.2" fill="#fa1414" stroke="#c80000" stroke-width="0.4"/>
<circle cx="392.8" cy="140.3" r="2.2" fill="#fa1414" stroke="#c80000" stroke-width="0.4"/>
<circle cx="406.9" cy="139.5" r="2.2" fill="#fa1414" stroke="#c80000" stroke-width="0.4"/>
<circle cx="414.4" cy="142.0" r="2.2" fill="#fa1414" stroke="#c80000" stroke-width="0.4"/>
<circle cx="405.3" cy="147.8" r="2.2" fill="#fa1414" stroke="#c80000" stroke-width="0.4"/>
<circle cx="395.3" cy="152.8" r="2.2" fill="#fa1414" stroke="#c80000" stroke-width="0.4"/>
<circle cx="399.5" cy="166.8" r="2.2" fill="#fa1414" stroke="#c80000" stroke-width="0.4"/>
<circle cx="410.3" cy="166.0" r="2.2" fill="#fa1414" stroke="#c80000" stroke-width="0.4"/>
<circle cx="392.8" cy="170.2" r="2.2" fill="#fa1414" stroke="#c80000" stroke-width="0.4"/>
<circle cx="412.8" cy="171.0" r="2.2" fill="#fa1414" stroke="#c80000" stroke-width="0.4"/>
<circle cx="465.2" cy="161.1" r="2.2" fill="#fa1414" stroke="#c80000" stroke-width="0.4"/>
<circle cx="452.8" cy="170.4" r="2.2" fill="#fa1414" stroke="#c80000" stroke-width="0.4"/>
<circle cx="451.7" cy="174.5" r="2.2" fill="#fa1414" stroke="#c80000" stroke-width="0.4"/>
<circle cx="443.4" cy="176.6" r="2.2" fill="#fa1414" stroke="#c80000" stroke-width="0.4"/>
<circle cx="318.6" cy="172.4" r="2.2" fill="#fa1414" stroke="#c80000" stroke-width="0.4"/>
<circle cx="322.4" cy="172.4" r="2.2" fill="#fa1414" stroke="#c80000" stroke-width="0.4"/>
<circle cx="319.9" cy="174.9" r="2.2" fill="#fa1414" stroke="#c80000" stroke-width="0.4"/>
<circle cx="321.5" cy="177.4" r="2.2" fill="#fa1414" stroke="#c80000" stroke-width="0.4"/>
<circle cx="328.6" cy="177.8" r="2.2" fill="#fa1414" stroke="#c80000" stroke-width="0.4"/>
<circle cx="330.7" cy="179.9" r="2.2" fill="#fa1414" stroke="#c80000" stroke-width="0.4"/>
<circle cx="315.3" cy="179.5" r="2.2" fill="#fa1414" stroke="#c80000" stroke-width="0.4"/>
<circle cx="315.3" cy="185.3" r="2.2" fill="#fa1414" stroke="#c80000" stroke-width="0.4"/>
<circle cx="313.7" cy="187.3" r="2.2" fill="#fa1414" stroke="#c80000" stroke-width="0.4"/>
<circle cx="316.1" cy="189.4" r="2.2" fill="#fa1414" stroke="#c80000" stroke-width="0.4"/>
<circle cx="324.9" cy="189.4" r="2.2" fill="#fa1414" stroke="#c80000" stroke-width="0.4"/>
<circle cx="327.8" cy="187.8" r="2.2" fill="#fa1414" stroke="#c80000" stroke-width="0.4"/>
<circle cx="330.7" cy="186.5" r="2.2" fill="#fa1414" stroke="#c80000" stroke-width="0.4"/>
<circle cx="329.4" cy="190.3" r="2.2" fill="#fa1414" stroke="#c80000" stroke-width="0.4"/>
<circle cx="400.2" cy="172.9" r="2.2" fill="#fa1414" stroke="#c80000" stroke-width="0.4"/>
<circle cx="413.0" cy="173.8" r="2.2" fill="#fa1414" stroke="#c80000" stroke-width="0.4"/>
<circle cx="414.8" cy="176.6" r="2.2" fill="#fa1414" stroke="#c80000" stroke-width="0.4"/>
<circle cx="418.5" cy="177.5" r="2.2" fill="#fa1414" stroke="#c80000" stroke-width="0.4"/>
<circle cx="397.5" cy="179.3" r="2.2" fill="#fa1414" stroke="#c80000" stroke-width="0.4"/>
<circle cx="402.0" cy="180.2" r="2.2" fill="#fa1414" stroke="#c80000" stroke-width="0.4"/>
<circle cx="406.6" cy="179.3" r="2.2" fill="#fa1414" stroke="#c80000" stroke-width="0.4"/>
<circle cx="409.3" cy="178.4" r="2.2" fill="#fa1414" stroke="#c80000" stroke-width="0.4"/>
<circle cx="393.8" cy="182.9" r="2.2" fill="#fa1414" stroke="#c80000" stroke-width="0.4"/>
<circle cx="399.3" cy="183.9" r="2.2" fill="#fa1414" stroke="#c80000" stroke-width="0.4"/>
<circle cx="402.9" cy="185.7" r="2.2" fill="#fa1414" stroke="#c80000" stroke-width="0.4"/>
<circle cx="415.7" cy="185.7" r="2.2" fill="#fa1414" stroke="#c80000" stroke-width="0.4"/>
<circle cx="419.4" cy="184.8" r="2.2" fill="#fa1414" stroke="#c80000" stroke-width="0.4"/>
<circle cx="411.2" cy="188.4" r="2.2" fill="#fa1414" stroke="#c80000" stroke-width="0.4"/>
<circle cx="413.9" cy="191.2" r="2.2" fill="#fa1414" stroke="#c80000" stroke-width="0.4"/>
<circle cx="431.2" cy="189.3" r="2.2" fill="#fa1414" stroke="#c80000" stroke-width="0.4"/>
<circle cx="430.3" cy="194.8" r="2.2" fill="#fa1414" stroke="#c80000" stroke-width="0.4"/>
<circle cx="401.1" cy="189.3" r="2.2" fill="#fa1414" stroke="#c80000" stroke-width="0.4"/>
<circle cx="397.5" cy="191.2" r="2.2" fill="#fa1414" stroke="#c80000" stroke-width="0.4"/>
<circle cx="402.9" cy="192.1" r="2.2" fill="#fa1414" stroke="#c80000" stroke-width="0.4"/>
<circle cx="406.6" cy="193.9" r="2.2" fill="#fa1414" stroke="#c80000" stroke-width="0.4"/>
<circle cx="392.9" cy="195.7" r="2.2" fill="#fa1414" stroke="#c80000" stroke-width="0.4"/>
<circle cx="399.3" cy="195.7" r="2.2" fill="#fa1414" stroke="#c80000" stroke-width="0.4"/>
<circle cx="404.8" cy="196.6" r="2.2" fill="#fa1414" stroke="#c80000" stroke-width="0.4"/>
<circle cx="412.1" cy="195.7" r="2.2" fill="#fa1414" stroke="#c80000" stroke-width="0.4"/>
<circle cx="416.6" cy="198.5" r="2.2" fill="#fa1414" stroke="#c80000" stroke-width="0.4"/>
<circle cx="421.2" cy="200.3" r="2.2" fill="#fa1414" stroke="#c80000" stroke-width="0.4"/>
<circle cx="424.9" cy="201.2" r="2.2" fill="#fa1414" stroke="#c80000" stroke-width="0.4"/>
<circle cx="428.5" cy="203.0" r="2.2" fill="#fa1414" stroke="#c80000" stroke-width="0.4"/>
<circle cx="432.1" cy="202.1" r="2.2" fill="#fa1414" stroke="#c80000" stroke-width="0.4"/>
<circle cx="395.6" cy="201.2" r="2.2" fill="#fa1414" stroke="#c80000" stroke-width="0.4"/>
<circle cx="400.2" cy="202.1" r="2.2" fill="#fa1414" stroke="#c80000" stroke-width="0.4"/>
<circle cx="406.6" cy="201.2" r="2.2" fill="#fa1414" stroke="#c80000" stroke-width="0.4"/>
<circle cx="410.2" cy="203.0" r="2.2" fill="#fa1414" stroke="#c80000" stroke-width="0.4"/>
<circle cx="415.7" cy="203.9" r="2.2" fill="#fa1414" stroke="#c80000" stroke-width="0.4"/>
<circle cx="421.2" cy="205.8" r="2.2" fill="#fa1414" stroke="#c80000" stroke-width="0.4"/>
<circle cx="425.8" cy="207.6" r="2.2" fill="#fa1414" stroke="#c80000" stroke-width="0.4"/>
<circle cx="430.3" cy="206.7" r="2.2" fill="#fa1414" stroke="#c80000" stroke-width="0.4"/>
<circle cx="434.0" cy="207.6" r="2.2" fill="#fa1414" stroke="#c80000" stroke-width="0.4"/>
<circle cx="393.8" cy="206.7" r="2.2" fill="#fa1414" stroke="#c80000" stroke-width="0.4"/>
<circle cx="398.4" cy="207.6" r="2.2" fill="#fa1414" stroke="#c80000" stroke-width="0.4"/>
<circle cx="402.9" cy="208.5" r="2.2" fill="#fa1414" stroke="#c80000" stroke-width="0.4"/>
<circle cx="408.4" cy="207.6" r="2.2" fill="#fa1414" stroke="#c80000" stroke-width="0.4"/>
<circle cx="412.1" cy="209.4" r="2.2" fill="#fa1414" stroke="#c80000" stroke-width="0.4"/>
<circle cx="417.6" cy="210.3" r="2.2" fill="#fa1414" stroke="#c80000" stroke-width="0.4"/>
<circle cx="423.0" cy="211.2" r="2.2" fill="#fa1414" stroke="#c80000" stroke-width="0.4"/>
<circle cx="428.5" cy="211.2" r="2.2" fill="#fa1414" stroke="#c80000" stroke-width="0.4"/>
<circle cx="433.1" cy="211.2" r="2.2" fill="#fa1414" stroke="#c80000" stroke-width="0.4"/>
<circle cx="394.7" cy="212.2" r="2.2" fill="#fa1414" stroke="#c80000" stroke-width="0.4"/>
<circle cx="399.3" cy="213.1" r="2.2" fill="#fa1414" stroke="#c80000" stroke-width="0.4"/>
<circle cx="404.8" cy="213.1" r="2.2" fill="#fa1414" stroke="#c80000" stroke-width="0.4"/>
<circle cx="410.2" cy="214.0" r="2.2" fill="#fa1414" stroke="#c80000" stroke-width="0.4"/>
<circle cx="415.7" cy="214.0" r="2.2" fill="#fa1414" stroke="#c80000" stroke-width="0.4"/>
<circle cx="452.4" cy="173.8" r="2.2" fill="#fa1414" stroke="#c80000" stroke-width="0.4"/>
<circle cx="443.7" cy="176.6" r="2.2" fill="#fa1414" stroke="#c80000" stroke-width="0.4"/>
<circle cx="437.5" cy="188.1" r="2.2" fill="#fa1414" stroke="#c80000" stroke-width="0.4"/>
<circle cx="447.3" cy="190.2" r="2.2" fill="#fa1414" stroke="#c80000" stroke-width="0.4"/>
<circle cx="455.2" cy="191.2" r="2.2" fill="#fa1414" stroke="#c80000" stroke-width="0.4"/>
<circle cx="467.0" cy="192.4" r="2.2" fill="#fa1414" stroke="#c80000" stroke-width="0.4"/>
<circle cx="438.7" cy="198.5" r="2.2" fill="#fa1414" stroke="#c80000" stroke-width="0.4"/>
<circle cx="461.6" cy="196.6" r="2.2" fill="#fa1414" stroke="#c80000" stroke-width="0.4"/>
<circle cx="465.2" cy="200.3" r="2.2" fill="#fa1414" stroke="#c80000" stroke-width="0.4"/>
<circle cx="470.7" cy="201.2" r="2.2" fill="#fa1414" stroke="#c80000" stroke-width="0.4"/>
<circle cx="451.5" cy="202.1" r="2.2" fill="#fa1414" stroke="#c80000" stroke-width="0.4"/>
<circle cx="450.6" cy="204.8" r="2.2" fill="#fa1414" stroke="#c80000" stroke-width="0.4"/>
<circle cx="460.6" cy="204.5" r="2.2" fill="#fa1414" stroke="#c80000" stroke-width="0.4"/>
<circle cx="472.5" cy="206.7" r="2.2" fill="#fa1414" stroke="#c80000" stroke-width="0.4"/>
<circle cx="436.9" cy="207.6" r="2.2" fill="#fa1414" stroke="#c80000" stroke-width="0.4"/>
<circle cx="439.6" cy="208.5" r="2.2" fill="#fa1414" stroke="#c80000" stroke-width="0.4"/>
<circle cx="450.6" cy="207.6" r="2.2" fill="#fa1414" stroke="#c80000" stroke-width="0.4"/>
<circle cx="456.1" cy="207.6" r="2.2" fill="#fa1414" stroke="#c80000" stroke-width="0.4"/>
<circle cx="462.5" cy="211.2" r="2.2" fill="#fa1414" stroke="#c80000" stroke-width="0.4"/>
<circle cx="467.0" cy="210.9" r="2.2" fill="#fa1414" stroke="#c80000" stroke-width="0.4"/>
<circle cx="436.9" cy="211.2" r="2.2" fill="#fa1414" stroke="#c80000" stroke-width="0.4"/>
<circle cx="338.5" cy="174.9" r="2.2" fill="#fa1414" stroke="#c80000" stroke-width="0.4"/>
<circle cx="345.0" cy="173.4" r="2.2" fill="#fa1414" stroke="#c80000" stroke-width="0.4"/>
<circle cx="342.7" cy="178.9" r="2.2" fill="#fa1414" stroke="#c80000" stroke-width="0.4"/>
<circle cx="333.2" cy="181.6" r="2.2" fill="#fa1414" stroke="#c80000" stroke-width="0.4"/>
<circle cx="333.4" cy="173.7" r="2.2" fill="#fa1414" stroke="#c80000" stroke-width="0.4"/>
<circle cx="334.5" cy="176.2" r="2.2" fill="#fa1414" stroke="#c80000" stroke-width="0.4"/>
<circle cx="351.5" cy="172.9" r="2.2" fill="#fa1414" stroke="#c80000" stroke-width="0.4"/>
<circle cx="349.2" cy="177.5" r="2.2" fill="#fa1414" stroke="#c80000" stroke-width="0.4"/>
<circle cx="335.6" cy="183.1" r="2.2" fill="#fa1414" stroke="#c80000" stroke-width="0.4"/>
<circle cx="345.6" cy="180.1" r="2.2" fill="#fa1414" stroke="#c80000" stroke-width="0.4"/>
<circle cx="338.3" cy="183.1" r="2.2" fill="#fa1414" stroke="#c80000" stroke-width="0.4"/>
<circle cx="346.6" cy="177.5" r="2.2" fill="#fa1414" stroke="#c80000" stroke-width="0.4"/>
<circle cx="332.8" cy="184.7" r="2.2" fill="#fa1414" stroke="#c80000" stroke-width="0.4"/>
<circle cx="337.6" cy="179.9" r="2.2" fill="#fa1414" stroke="#c80000" stroke-width="0.4"/>
<circle cx="343.8" cy="177.0" r="2.2" fill="#fa1414" stroke="#c80000" stroke-width="0.4"/>
<circle cx="342.3" cy="183.7" r="2.2" fill="#fa1414" stroke="#c80000" stroke-width="0.4"/>
<circle cx="339.9" cy="179.6" r="2.2" fill="#fa1414" stroke="#c80000" stroke-width="0.4"/>
<circle cx="334.0" cy="178.9" r="2.2" fill="#fa1414" stroke="#c80000" stroke-width="0.4"/>
<circle cx="332.5" cy="188.6" r="2.2" fill="#fa1414" stroke="#c80000" stroke-width="0.4"/>
<circle cx="348.6" cy="175.1" r="2.2" fill="#fa1414" stroke="#c80000" stroke-width="0.4"/>
<circle cx="342.6" cy="174.8" r="2.2" fill="#fa1414" stroke="#c80000" stroke-width="0.4"/>
<circle cx="342.9" cy="172.5" r="2.2" fill="#fa1414" stroke="#c80000" stroke-width="0.4"/>
<circle cx="322.7" cy="191.9" r="2.2" fill="#fa1414" stroke="#c80000" stroke-width="0.4"/>
<circle cx="329.3" cy="190.2" r="2.2" fill="#fa1414" stroke="#c80000" stroke-width="0.4"/>
<circle cx="317.4" cy="188.2" r="2.2" fill="#fa1414" stroke="#c80000" stroke-width="0.4"/>
<circle cx="315.5" cy="190.6" r="2.2" fill="#fa1414" stroke="#c80000" stroke-width="0.4"/>
<circle cx="319.2" cy="186.2" r="2.2" fill="#fa1414" stroke="#c80000" stroke-width="0.4"/>
<circle cx="312.8" cy="187.7" r="2.2" fill="#fa1414" stroke="#c80000" stroke-width="0.4"/>
<circle cx="317.3" cy="208.6" r="2.2" fill="#fa1414" stroke="#c80000" stroke-width="0.4"/>
<circle cx="331.1" cy="202.7" r="2.2" fill="#fa1414" stroke="#c80000" stroke-width="0.4"/>
<circle cx="330.8" cy="215.7" r="2.2" fill="#fa1414" stroke="#c80000" stroke-width="0.4"/>
<circle cx="316.6" cy="197.4" r="2.2" fill="#fa1414" stroke="#c80000" stroke-width="0.4"/>
<circle cx="324.6" cy="213.6" r="2.2" fill="#fa1414" stroke="#c80000" stroke-width="0.4"/>
<circle cx="328.8" cy="203.5" r="2.2" fill="#fa1414" stroke="#c80000" stroke-width="0.4"/>
<circle cx="325.1" cy="211.2" r="2.2" fill="#fa1414" stroke="#c80000" stroke-width="0.4"/>
<circle cx="313.9" cy="207.8" r="2.2" fill="#fa1414" stroke="#c80000" stroke-width="0.4"/>
<circle cx="330.2" cy="210.8" r="2.2" fill="#fa1414" stroke="#c80000" stroke-width="0.4"/>
<circle cx="315.7" cy="210.9" r="2.2" fill="#fa1414" stroke="#c80000" stroke-width="0.4"/>
<circle cx="318.8" cy="211.2" r="2.2" fill="#fa1414" stroke="#c80000" stroke-width="0.4"/>
<circle cx="320.1" cy="214.7" r="2.2" fill="#fa1414" stroke="#c80000" stroke-width="0.4"/>
<circle cx="326.6" cy="196.1" r="2.2" fill="#fa1414" stroke="#c80000" stroke-width="0.4"/>
<circle cx="314.7" cy="195.6" r="2.2" fill="#fa1414" stroke="#c80000" stroke-width="0.4"/>
<circle cx="331.6" cy="207.8" r="2.2" fill="#fa1414" stroke="#c80000" stroke-width="0.4"/>
<circle cx="319.1" cy="205.2" r="2.2" fill="#fa1414" stroke="#c80000" stroke-width="0.4"/>
<circle cx="314.8" cy="192.3" r="2.2" fill="#fa1414" stroke="#c80000" stroke-width="0.4"/>
<circle cx="317.3" cy="202.1" r="2.2" fill="#fa1414" stroke="#c80000" stroke-width="0.4"/>
<circle cx="314.8" cy="213.8" r="2.2" fill="#fa1414" stroke="#c80000" stroke-width="0.4"/>
<circle cx="322.1" cy="204.8" r="2.2" fill="#fa1414" stroke="#c80000" stroke-width="0.4"/>
<circle cx="322.6" cy="192.4" r="2.2" fill="#fa1414" stroke="#c80000" stroke-width="0.4"/>
<circle cx="320.9" cy="196.4" r="2.2" fill="#fa1414" stroke="#c80000" stroke-width="0.4"/>
<circle cx="312.3" cy="211.2" r="2.2" fill="#fa1414" stroke="#c80000" stroke-width="0.4"/>
<circle cx="326.6" cy="205.4" r="2.2" fill="#fa1414" stroke="#c80000" stroke-width="0.4"/>
<circle cx="314.3" cy="205.4" r="2.2" fill="#fa1414" stroke="#c80000" stroke-width="0.4"/>
<circle cx="322.3" cy="208.6" r="2.2" fill="#fa1414" stroke="#c80000" stroke-width="0.4"/>
<circle cx="330.9" cy="198.2" r="2.2" fill="#fa1414" stroke="#c80000" stroke-width="0.4"/>
<circle cx="328.8" cy="195.3" r="2.2" fill="#fa1414" stroke="#c80000" stroke-width="0.4"/>
<circle cx="314.6" cy="202.6" r="2.2" fill="#fa1414" stroke="#c80000" stroke-width="0.4"/>
<circle cx="313.6" cy="197.8" r="2.2" fill="#fa1414" stroke="#c80000" stroke-width="0.4"/>
<circle cx="327.7" cy="213.5" r="2.2" fill="#fa1414" stroke="#c80000" stroke-width="0.4"/>
<circle cx="322.4" cy="200.1" r="2.2" fill="#fa1414" stroke="#c80000" stroke-width="0.4"/>
<circle cx="326.5" cy="192.5" r="2.2" fill="#fa1414" stroke="#c80000" stroke-width="0.4"/>
<circle cx="323.2" cy="202.6" r="2.2" fill="#fa1414" stroke="#c80000" stroke-width="0.4"/>
<circle cx="312.6" cy="200.0" r="2.2" fill="#fa1414" stroke="#c80000" stroke-width="0.4"/>
<circle cx="317.6" cy="195.1" r="2.2" fill="#fa1414" stroke="#c80000" stroke-width="0.4"/>
<circle cx="328.4" cy="198.2" r="2.2" fill="#fa1414" stroke="#c80000" stroke-width="0.4"/>
<circle cx="330.8" cy="211.9" r="2.2" fill="#fa1414" stroke="#c80000" stroke-width="0.4"/>
<circle cx="361.1" cy="200.7" r="2.2" fill="#fa1414" stroke="#c80000" stroke-width="0.4"/>
<circle cx="369.6" cy="186.7" r="2.2" fill="#fa1414" stroke="#c80000" stroke-width="0.4"/>
<circle cx="325.2" cy="212.9" r="2.2" fill="#fa1414" stroke="#c80000" stroke-width="0.4"/>
<circle cx="365.7" cy="205.9" r="2.2" fill="#fa1414" stroke="#c80000" stroke-width="0.4"/>
<circle cx="326.0" cy="208.7" r="2.2" fill="#fa1414" stroke="#c80000" stroke-width="0.4"/>
<circle cx="359.8" cy="212.3" r="2.2" fill="#fa1414" stroke="#c80000" stroke-width="0.4"/>
<circle cx="372.8" cy="193.1" r="2.2" fill="#fa1414" stroke="#c80000" stroke-width="0.4"/>
<circle cx="379.0" cy="187.0" r="2.2" fill="#fa1414" stroke="#c80000" stroke-width="0.4"/>
<circle cx="355.6" cy="207.6" r="2.2" fill="#fa1414" stroke="#c80000" stroke-width="0.4"/>
<circle cx="369.5" cy="215.1" r="2.2" fill="#fa1414" stroke="#c80000" stroke-width="0.4"/>
<circle cx="344.7" cy="207.4" r="2.2" fill="#fa1414" stroke="#c80000" stroke-width="0.4"/>
<circle cx="370.9" cy="197.4" r="2.2" fill="#fa1414" stroke="#c80000" stroke-width="0.4"/>
<circle cx="382.7" cy="199.2" r="2.2" fill="#fa1414" stroke="#c80000" stroke-width="0.4"/>
<circle cx="338.9" cy="214.1" r="2.2" fill="#fa1414" stroke="#c80000" stroke-width="0.4"/>
<circle cx="390.0" cy="192.9" r="2.2" fill="#fa1414" stroke="#c80000" stroke-width="0.4"/>
<circle cx="374.0" cy="198.5" r="2.2" fill="#fa1414" stroke="#c80000" stroke-width="0.4"/>
<circle cx="371.6" cy="209.8" r="2.2" fill="#fa1414" stroke="#c80000" stroke-width="0.4"/>
<circle cx="390.9" cy="172.6" r="2.2" fill="#fa1414" stroke="#c80000" stroke-width="0.4"/>
<circle cx="384.2" cy="197.0" r="2.2" fill="#fa1414" stroke="#c80000" stroke-width="0.4"/>
<circle cx="372.8" cy="206.4" r="2.2" fill="#fa1414" stroke="#c80000" stroke-width="0.4"/>
<circle cx="377.9" cy="207.2" r="2.2" fill="#fa1414" stroke="#c80000" stroke-width="0.4"/>
<circle cx="362.1" cy="210.5" r="2.2" fill="#fa1414" stroke="#c80000" stroke-width="0.4"/>
<circle cx="369.2" cy="200.4" r="2.2" fill="#fa1414" stroke="#c80000" stroke-width="0.4"/>
<circle cx="360.2" cy="197.0" r="2.2" fill="#fa1414" stroke="#c80000" stroke-width="0.4"/>
<circle cx="365.1" cy="199.7" r="2.2" fill="#fa1414" stroke="#c80000" stroke-width="0.4"/>
<circle cx="377.4" cy="203.2" r="2.2" fill="#fa1414" stroke="#c80000" stroke-width="0.4"/>
<circle cx="373.3" cy="214.8" r="2.2" fill="#fa1414" stroke="#c80000" stroke-width="0.4"/>
<circle cx="354.5" cy="199.9" r="2.2" fill="#fa1414" stroke="#c80000" stroke-width="0.4"/>
<circle cx="384.3" cy="175.2" r="2.2" fill="#fa1414" stroke="#c80000" stroke-width="0.4"/>
<circle cx="390.4" cy="212.8" r="2.2" fill="#fa1414" stroke="#c80000" stroke-width="0.4"/>
<circle cx="379.0" cy="214.4" r="2.2" fill="#fa1414" stroke="#c80000" stroke-width="0.4"/>
<circle cx="335.1" cy="213.2" r="2.2" fill="#fa1414" stroke="#c80000" stroke-width="0.4"/>
<circle cx="379.1" cy="190.9" r="2.2" fill="#fa1414" stroke="#c80000" stroke-width="0.4"/>
<circle cx="336.7" cy="210.8" r="2.2" fill="#fa1414" stroke="#c80000" stroke-width="0.4"/>
<circle cx="386.7" cy="201.4" r="2.2" fill="#fa1414" stroke="#c80000" stroke-width="0.4"/>
<circle cx="384.9" cy="179.8" r="2.2" fill="#fa1414" stroke="#c80000" stroke-width="0.4"/>
<circle cx="391.9" cy="195.1" r="2.2" fill="#fa1414" stroke="#c80000" stroke-width="0.4"/>
<circle cx="346.9" cy="213.8" r="2.2" fill="#fa1414" stroke="#c80000" stroke-width="0.4"/>
<circle cx="383.7" cy="206.4" r="2.2" fill="#fa1414" stroke="#c80000" stroke-width="0.4"/>
<circle cx="365.4" cy="211.6" r="2.2" fill="#fa1414" stroke="#c80000" stroke-width="0.4"/>
<circle cx="372.7" cy="188.0" r="2.2" fill="#fa1414" stroke="#c80000" stroke-width="0.4"/>
<circle cx="386.7" cy="171.5" r="2.2" fill="#fa1414" stroke="#c80000" stroke-width="0.4"/>
<circle cx="390.3" cy="178.3" r="2.2" fill="#fa1414" stroke="#c80000" stroke-width="0.4"/>
<circle cx="385.2" cy="215.8" r="2.2" fill="#fa1414" stroke="#c80000" stroke-width="0.4"/>
<circle cx="356.2" cy="197.1" r="2.2" fill="#fa1414" stroke="#c80000" stroke-width="0.4"/>
<circle cx="388.7" cy="208.3" r="2.2" fill="#fa1414" stroke="#c80000" stroke-width="0.4"/>
<circle cx="384.5" cy="189.1" r="2.2" fill="#fa1414" stroke="#c80000" stroke-width="0.4"/>
<circle cx="357.6" cy="199.8" r="2.2" fill="#fa1414" stroke="#c80000" stroke-width="0.4"/>
<circle cx="389.0" cy="197.9" r="2.2" fill="#fa1414" stroke="#c80000" stroke-width="0.4"/>
<circle cx="389.2" cy="200.9" r="2.2" fill="#fa1414" stroke="#c80000" stroke-width="0.4"/>
<circle cx="368.1" cy="212.2" r="2.2" fill="#fa1414" stroke="#c80000" stroke-width="0.4"/>
<circle cx="389.8" cy="180.9" r="2.2" fill="#fa1414" stroke="#c80000" stroke-width="0.4"/>
<circle cx="384.7" cy="210.1" r="2.2" fill="#fa1414" stroke="#c80000" stroke-width="0.4"/>
<circle cx="387.1" cy="181.8" r="2.2" fill="#fa1414" stroke="#c80000" stroke-width="0.4"/>
<circle cx="389.4" cy="175.6" r="2.2" fill="#fa1414" stroke="#c80000" stroke-width="0.4"/>
<circle cx="349.6" cy="206.4" r="2.2" fill="#fa1414" stroke="#c80000" stroke-width="0.4"/>
<circle cx="386.8" cy="174.3" r="2.2" fill="#fa1414" stroke="#c80000" stroke-width="0.4"/>
<circle cx="343.4" cy="215.0" r="2.2" fill="#fa1414" stroke="#c80000" stroke-width="0.4"/>
<circle cx="380.5" cy="180.0" r="2.2" fill="#fa1414" stroke="#c80000" stroke-width="0.4"/>
<circle cx="378.2" cy="198.3" r="2.2" fill="#fa1414" stroke="#c80000" stroke-width="0.4"/>
<circle cx="380.5" cy="211.6" r="2.2" fill="#fa1414" stroke="#c80000" stroke-width="0.4"/>
<circle cx="362.9" cy="196.6" r="2.2" fill="#fa1414" stroke="#c80000" stroke-width="0.4"/>
<circle cx="377.3" cy="192.9" r="2.2" fill="#fa1414" stroke="#c80000" stroke-width="0.4"/>
<circle cx="382.2" cy="215.8" r="2.2" fill="#fa1414" stroke="#c80000" stroke-width="0.4"/>
<circle cx="349.2" cy="210.0" r="2.2" fill="#fa1414" stroke="#c80000" stroke-width="0.4"/>
<circle cx="387.9" cy="214.8" r="2.2" fill="#fa1414" stroke="#c80000" stroke-width="0.4"/>
<circle cx="386.7" cy="184.8" r="2.2" fill="#fa1414" stroke="#c80000" stroke-width="0.4"/>
<circle cx="363.2" cy="193.1" r="2.2" fill="#fa1414" stroke="#c80000" stroke-width="0.4"/>
<circle cx="375.0" cy="204.8" r="2.2" fill="#fa1414" stroke="#c80000" stroke-width="0.4"/>
<circle cx="355.4" cy="213.8" r="2.2" fill="#fa1414" stroke="#c80000" stroke-width="0.4"/>
<circle cx="376.8" cy="212.5" r="2.2" fill="#fa1414" stroke="#c80000" stroke-width="0.4"/>
<circle cx="382.9" cy="193.3" r="2.2" fill="#fa1414" stroke="#c80000" stroke-width="0.4"/>
<circle cx="327.5" cy="215.6" r="2.2" fill="#fa1414" stroke="#c80000" stroke-width="0.4"/>
<circle cx="345.9" cy="204.0" r="2.2" fill="#fa1414" stroke="#c80000" stroke-width="0.4"/>
<circle cx="366.0" cy="215.2" r="2.2" fill="#fa1414" stroke="#c80000" stroke-width="0.4"/>
<circle cx="356.9" cy="210.7" r="2.2" fill="#fa1414" stroke="#c80000" stroke-width="0.4"/>
<circle cx="383.4" cy="181.8" r="2.2" fill="#fa1414" stroke="#c80000" stroke-width="0.4"/>
<circle cx="351.5" cy="202.0" r="2.2" fill="#fa1414" stroke="#c80000" stroke-width="0.4"/>
<circle cx="327.7" cy="212.4" r="2.2" fill="#fa1414" stroke="#c80000" stroke-width="0.4"/>
<circle cx="385.8" cy="213.2" r="2.2" fill="#fa1414" stroke="#c80000" stroke-width="0.4"/>
<circle cx="381.0" cy="206.4" r="2.2" fill="#fa1414" stroke="#c80000" stroke-width="0.4"/>
<circle cx="381.3" cy="196.5" r="2.2" fill="#fa1414" stroke="#c80000" stroke-width="0.4"/>
<circle cx="370.4" cy="190.4" r="2.2" fill="#fa1414" stroke="#c80000" stroke-width="0.4"/>
<circle cx="370.2" cy="205.1" r="2.2" fill="#fa1414" stroke="#c80000" stroke-width="0.4"/>
<circle cx="358.3" cy="203.5" r="2.2" fill="#fa1414" stroke="#c80000" stroke-width="0.4"/>
<circle cx="331.2" cy="208.0" r="2.2" fill="#fa1414" stroke="#c80000" stroke-width="0.4"/>
<circle cx="367.7" cy="202.8" r="2.2" fill="#fa1414" stroke="#c80000" stroke-width="0.4"/>
<circle cx="390.8" cy="205.5" r="2.2" fill="#fa1414" stroke="#c80000" stroke-width="0.4"/>
<circle cx="375.7" cy="200.7" r="2.2" fill="#fa1414" stroke="#c80000" stroke-width="0.4"/>
<circle cx="376.0" cy="184.8" r="2.2" fill="#fa1414" stroke="#c80000" stroke-width="0.4"/>
<circle cx="387.7" cy="191.5" r="2.2" fill="#fa1414" stroke="#c80000" stroke-width="0.4"/>
<circle cx="349.6" cy="213.3" r="2.2" fill="#fa1414" stroke="#c80000" stroke-width="0.4"/>
<circle cx="380.0" cy="183.1" r="2.2" fill="#fa1414" stroke="#c80000" stroke-width="0.4"/>
<circle cx="358.9" cy="209.0" r="2.2" fill="#fa1414" stroke="#c80000" stroke-width="0.4"/>
<circle cx="367.9" cy="207.9" r="2.2" fill="#fa1414" stroke="#c80000" stroke-width="0.4"/>
<circle cx="389.2" cy="168.8" r="2.2" fill="#fa1414" stroke="#c80000" stroke-width="0.4"/>
<circle cx="390.6" cy="189.2" r="2.2" fill="#fa1414" stroke="#c80000" stroke-width="0.4"/>
<circle cx="353.2" cy="212.6" r="2.2" fill="#fa1414" stroke="#c80000" stroke-width="0.4"/>
<circle cx="388.0" cy="205.0" r="2.2" fill="#fa1414" stroke="#c80000" stroke-width="0.4"/>
<circle cx="359.9" cy="205.7" r="2.2" fill="#fa1414" stroke="#c80000" stroke-width="0.4"/>
<circle cx="387.1" cy="176.9" r="2.2" fill="#fa1414" stroke="#c80000" stroke-width="0.4"/>
<circle cx="391.8" cy="184.1" r="2.2" fill="#fa1414" stroke="#c80000" stroke-width="0.4"/>
<circle cx="322.4" cy="215.5" r="2.2" fill="#fa1414" stroke="#c80000" stroke-width="0.4"/>
<circle cx="362.6" cy="203.7" r="2.2" fill="#fa1414" stroke="#c80000" stroke-width="0.4"/>
<circle cx="342.9" cy="211.1" r="2.2" fill="#fa1414" stroke="#c80000" stroke-width="0.4"/>
<circle cx="380.6" cy="209.1" r="2.2" fill="#fa1414" stroke="#c80000" stroke-width="0.4"/>
<circle cx="338.0" cy="206.7" r="2.2" fill="#fa1414" stroke="#c80000" stroke-width="0.4"/>
<circle cx="375.9" cy="182.3" r="2.2" fill="#fa1414" stroke="#c80000" stroke-width="0.4"/>
<circle cx="378.3" cy="210.1" r="2.2" fill="#fa1414" stroke="#c80000" stroke-width="0.4"/>
<circle cx="382.1" cy="177.2" r="2.2" fill="#fa1414" stroke="#c80000" stroke-width="0.4"/>
<circle cx="341.3" cy="204.4" r="2.2" fill="#fa1414" stroke="#c80000" stroke-width="0.4"/>
<circle cx="364.4" cy="208.3" r="2.2" fill="#fa1414" stroke="#c80000" stroke-width="0.4"/>
<circle cx="373.2" cy="202.9" r="2.2" fill="#fa1414" stroke="#c80000" stroke-width="0.4"/>
<circle cx="375.1" cy="194.9" r="2.2" fill="#fa1414" stroke="#c80000" stroke-width="0.4"/>
<circle cx="358.8" cy="215.9" r="2.2" fill="#fa1414" stroke="#c80000" stroke-width="0.4"/>
<circle cx="383.9" cy="186.5" r="2.2" fill="#fa1414" stroke="#c80000" stroke-width="0.4"/>
<circle cx="365.4" cy="195.8" r="2.2" fill="#fa1414" stroke="#c80000" stroke-width="0.4"/>
<circle cx="361.9" cy="213.9" r="2.2" fill="#fa1414" stroke="#c80000" stroke-width="0.4"/>
<circle cx="351.9" cy="207.7" r="2.2" fill="#fa1414" stroke="#c80000" stroke-width="0.4"/>
<circle cx="385.4" cy="204.5" r="2.2" fill="#fa1414" stroke="#c80000" stroke-width="0.4"/>
<circle cx="380.4" cy="194.1" r="2.2" fill="#fa1414" stroke="#c80000" stroke-width="0.4"/>
<circle cx="375.2" cy="207.4" r="2.2" fill="#fa1414" stroke="#c80000" stroke-width="0.4"/>
<circle cx="379.0" cy="201.0" r="2.2" fill="#fa1414" stroke="#c80000" stroke-width="0.4"/>
<circle cx="368.7" cy="196.1" r="2.2" fill="#fa1414" stroke="#c80000" stroke-width="0.4"/>
<circle cx="353.1" cy="215.3" r="2.2" fill="#fa1414" stroke="#c80000" stroke-width="0.4"/>
<circle cx="391.4" cy="166.7" r="2.2" fill="#fa1414" stroke="#c80000" stroke-width="0.4"/>
<circle cx="388.2" cy="154.5" r="2.2" fill="#fa1414" stroke="#c80000" stroke-width="0.4"/>
<circle cx="372.8" cy="158.6" r="2.2" fill="#fa1414" stroke="#c80000" stroke-width="0.4"/>
<circle cx="372.8" cy="161.1" r="2.2" fill="#fa1414" stroke="#c80000" stroke-width="0.4"/>
<circle cx="377.0" cy="165.3" r="2.2" fill="#fa1414" stroke="#c80000" stroke-width="0.4"/>
<circle cx="386.9" cy="167.8" r="2.2" fill="#fa1414" stroke="#c80000" stroke-width="0.4"/>
<circle cx="391.1" cy="171.1" r="2.2" fill="#fa1414" stroke="#c80000" stroke-width="0.4"/>
<circle cx="352.8" cy="173.2" r="2.2" fill="#fa1414" stroke="#c80000" stroke-width="0.4"/>
<circle cx="355.5" cy="175.8" r="2.2" fill="#fa1414" stroke="#c80000" stroke-width="0.4"/>
<circle cx="363.4" cy="189.2" r="2.2" fill="#fa1414" stroke="#c80000" stroke-width="0.4"/>
<circle cx="385.0" cy="158.7" r="2.2" fill="#fa1414" stroke="#c80000" stroke-width="0.4"/>
<circle cx="346.0" cy="197.0" r="2.2" fill="#fa1414" stroke="#c80000" stroke-width="0.4"/>
<circle cx="386.0" cy="164.2" r="2.2" fill="#fa1414" stroke="#c80000" stroke-width="0.4"/>
<circle cx="367.8" cy="172.6" r="2.2" fill="#fa1414" stroke="#c80000" stroke-width="0.4"/>
<circle cx="383.3" cy="171.2" r="2.2" fill="#fa1414" stroke="#c80000" stroke-width="0.4"/>
<circle cx="369.1" cy="177.7" r="2.2" fill="#fa1414" stroke="#c80000" stroke-width="0.4"/>
<circle cx="367.8" cy="183.1" r="2.2" fill="#fa1414" stroke="#c80000" stroke-width="0.4"/>
<circle cx="342.3" cy="199.0" r="2.2" fill="#fa1414" stroke="#c80000" stroke-width="0.4"/>
<circle cx="360.5" cy="175.7" r="2.2" fill="#fa1414" stroke="#c80000" stroke-width="0.4"/>
<circle cx="373.2" cy="170.0" r="2.2" fill="#fa1414" stroke="#c80000" stroke-width="0.4"/>
<circle cx="319.5" cy="211.3" r="2.2" fill="#fa1414" stroke="#c80000" stroke-width="0.4"/>
<circle cx="335.5" cy="202.7" r="2.2" fill="#fa1414" stroke="#c80000" stroke-width="0.4"/>
<circle cx="331.1" cy="200.0" r="2.2" fill="#fa1414" stroke="#c80000" stroke-width="0.4"/>
<circle cx="367.8" cy="166.2" r="2.2" fill="#fa1414" stroke="#c80000" stroke-width="0.4"/>
<circle cx="390.8" cy="150.8" r="2.2" fill="#fa1414" stroke="#c80000" stroke-width="0.4"/>
<circle cx="362.5" cy="170.6" r="2.2" fill="#fa1414" stroke="#c80000" stroke-width="0.4"/>
<circle cx="421.5" cy="113.1" r="2.2" fill="#1818ff" stroke="#0000c0" stroke-width="0.4"/>
<circle cx="397.8" cy="131.8" r="2.2" fill="#1818ff" stroke="#0000c0" stroke-width="0.4"/>
<circle cx="381.5" cy="149.0" r="2.2" fill="#1818ff" stroke="#0000c0" stroke-width="0.4"/>
<circle cx="384.4" cy="150.7" r="2.2" fill="#1818ff" stroke="#0000c0" stroke-width="0.4"/>
<circle cx="389.4" cy="148.6" r="2.2" fill="#1818ff" stroke="#0000c0" stroke-width="0.4"/>
<circle cx="391.1" cy="151.1" r="2.2" fill="#1818ff" stroke="#0000c0" stroke-width="0.4"/>
<circle cx="354.9" cy="166.1" r="2.2" fill="#1818ff" stroke="#0000c0" stroke-width="0.4"/>
<circle cx="358.6" cy="167.8" r="2.2" fill="#1818ff" stroke="#0000c0" stroke-width="0.4"/>
<circle cx="361.1" cy="170.3" r="2.2" fill="#1818ff" stroke="#0000c0" stroke-width="0.4"/>
<circle cx="365.3" cy="165.3" r="2.2" fill="#1818ff" stroke="#0000c0" stroke-width="0.4"/>
<circle cx="366.9" cy="168.2" r="2.2" fill="#1818ff" stroke="#0000c0" stroke-width="0.4"/>
<circle cx="369.0" cy="169.8" r="2.2" fill="#1818ff" stroke="#0000c0" stroke-width="0.4"/>
<circle cx="371.1" cy="166.5" r="2.2" fill="#1818ff" stroke="#0000c0" stroke-width="0.4"/>
<circle cx="364.4" cy="171.5" r="2.2" fill="#1818ff" stroke="#0000c0" stroke-width="0.4"/>
<circle cx="357.0" cy="171.9" r="2.2" fill="#1818ff" stroke="#0000c0" stroke-width="0.4"/>
<circle cx="397.8" cy="133.7" r="2.2" fill="#1818ff" stroke="#0000c0" stroke-width="0.4"/>
<circle cx="403.6" cy="137.8" r="2.2" fill="#1818ff" stroke="#0000c0" stroke-width="0.4"/>
<circle cx="407.8" cy="135.3" r="2.2" fill="#1818ff" stroke="#0000c0" stroke-width="0.4"/>
<circle cx="411.9" cy="141.1" r="2.2" fill="#1818ff" stroke="#0000c0" stroke-width="0.4"/>
<circle cx="404.4" cy="143.6" r="2.2" fill="#1818ff" stroke="#0000c0" stroke-width="0.4"/>
<circle cx="400.3" cy="145.3" r="2.2" fill="#1818ff" stroke="#0000c0" stroke-width="0.4"/>
<circle cx="395.3" cy="146.1" r="2.2" fill="#1818ff" stroke="#0000c0" stroke-width="0.4"/>
<circle cx="393.7" cy="147.8" r="2.2" fill="#1818ff" stroke="#0000c0" stroke-width="0.4"/>
<circle cx="397.0" cy="148.6" r="2.2" fill="#1818ff" stroke="#0000c0" stroke-width="0.4"/>
<circle cx="399.5" cy="147.8" r="2.2" fill="#1818ff" stroke="#0000c0" stroke-width="0.4"/>
<circle cx="406.1" cy="149.4" r="2.2" fill="#1818ff" stroke="#0000c0" stroke-width="0.4"/>
<circle cx="394.5" cy="151.1" r="2.2" fill="#1818ff" stroke="#0000c0" stroke-width="0.4"/>
<circle cx="392.8" cy="158.6" r="2.2" fill="#1818ff" stroke="#0000c0" stroke-width="0.4"/>
<circle cx="397.0" cy="161.9" r="2.2" fill="#1818ff" stroke="#0000c0" stroke-width="0.4"/>
<circle cx="402.0" cy="161.1" r="2.2" fill="#1818ff" stroke="#0000c0" stroke-width="0.4"/>
<circle cx="392.8" cy="162.7" r="2.2" fill="#1818ff" stroke="#0000c0" stroke-width="0.4"/>
<circle cx="326.9" cy="175.7" r="2.2" fill="#1818ff" stroke="#0000c0" stroke-width="0.4"/>
<circle cx="394.7" cy="193.0" r="2.2" fill="#1818ff" stroke="#0000c0" stroke-width="0.4"/>
<circle cx="318.8" cy="202.2" r="2.2" fill="#1818ff" stroke="#0000c0" stroke-width="0.4"/>
<circle cx="315.7" cy="207.8" r="2.2" fill="#1818ff" stroke="#0000c0" stroke-width="0.4"/>
<circle cx="321.5" cy="204.5" r="2.2" fill="#1818ff" stroke="#0000c0" stroke-width="0.4"/>
<circle cx="364.1" cy="188.9" r="2.2" fill="#1818ff" stroke="#0000c0" stroke-width="0.4"/>
<circle cx="339.1" cy="197.2" r="2.2" fill="#1818ff" stroke="#0000c0" stroke-width="0.4"/>
<circle cx="364.3" cy="170.6" r="2.2" fill="#1818ff" stroke="#0000c0" stroke-width="0.4"/>
<circle cx="357.9" cy="174.2" r="2.2" fill="#1818ff" stroke="#0000c0" stroke-width="0.4"/>
<circle cx="371.2" cy="183.6" r="2.2" fill="#1818ff" stroke="#0000c0" stroke-width="0.4"/>
<circle cx="387.2" cy="170.0" r="2.2" fill="#1818ff" stroke="#0000c0" stroke-width="0.4"/>
<circle cx="343.1" cy="197.9" r="2.2" fill="#1818ff" stroke="#0000c0" stroke-width="0.4"/>
<circle cx="384.3" cy="165.8" r="2.2" fill="#1818ff" stroke="#0000c0" stroke-width="0.4"/>
<circle cx="386.1" cy="161.7" r="2.2" fill="#1818ff" stroke="#0000c0" stroke-width="0.4"/>
<circle cx="340.8" cy="196.3" r="2.2" fill="#1818ff" stroke="#0000c0" stroke-width="0.4"/>
<circle cx="365.3" cy="174.1" r="2.2" fill="#1818ff" stroke="#0000c0" stroke-width="0.4"/>
<circle cx="391.1" cy="151.6" r="2.2" fill="#1818ff" stroke="#0000c0" stroke-width="0.4"/>
<circle cx="377.9" cy="175.3" r="2.2" fill="#1818ff" stroke="#0000c0" stroke-width="0.4"/>
<circle cx="356.9" cy="186.0" r="2.2" fill="#1818ff" stroke="#0000c0" stroke-width="0.4"/>
<circle cx="358.2" cy="190.4" r="2.2" fill="#1818ff" stroke="#0000c0" stroke-width="0.4"/>
<circle cx="372.3" cy="164.6" r="2.2" fill="#1818ff" stroke="#0000c0" stroke-width="0.4"/>
<circle cx="375.0" cy="167.9" r="2.2" fill="#1818ff" stroke="#0000c0" stroke-width="0.4"/>
<circle cx="352.2" cy="190.3" r="2.2" fill="#1818ff" stroke="#0000c0" stroke-width="0.4"/>
<circle cx="391.2" cy="162.7" r="2.2" fill="#1818ff" stroke="#0000c0" stroke-width="0.4"/>
<circle cx="375.1" cy="163.7" r="2.2" fill="#1818ff" stroke="#0000c0" stroke-width="0.4"/>
<circle cx="327.9" cy="203.7" r="2.2" fill="#1818ff" stroke="#0000c0" stroke-width="0.4"/>
<circle cx="382.1" cy="165.2" r="2.2" fill="#1818ff" stroke="#0000c0" stroke-width="0.4"/>
<circle cx="361.4" cy="177.2" r="2.2" fill="#1818ff" stroke="#0000c0" stroke-width="0.4"/>
<circle cx="331.9" cy="205.0" r="2.2" fill="#1818ff" stroke="#0000c0" stroke-width="0.4"/>
<circle cx="381.6" cy="159.8" r="2.2" fill="#1818ff" stroke="#0000c0" stroke-width="0.4"/>
<circle cx="324.5" cy="210.8" r="2.2" fill="#1818ff" stroke="#0000c0" stroke-width="0.4"/>
<circle cx="333.8" cy="199.1" r="2.2" fill="#1818ff" stroke="#0000c0" stroke-width="0.4"/>
<circle cx="340.1" cy="204.7" r="2.2" fill="#1818ff" stroke="#0000c0" stroke-width="0.4"/>
<circle cx="347.0" cy="183.9" r="2.2" fill="#1818ff" stroke="#0000c0" stroke-width="0.4"/>
<circle cx="357.3" cy="183.4" r="2.2" fill="#1818ff" stroke="#0000c0" stroke-width="0.4"/>
<circle cx="391.9" cy="148.3" r="2.2" fill="#1818ff" stroke="#0000c0" stroke-width="0.4"/>
<circle cx="365.1" cy="183.4" r="2.2" fill="#1818ff" stroke="#0000c0" stroke-width="0.4"/>
<circle cx="372.5" cy="172.4" r="2.2" fill="#1818ff" stroke="#0000c0" stroke-width="0.4"/>
<circle cx="370.1" cy="173.4" r="2.2" fill="#1818ff" stroke="#0000c0" stroke-width="0.4"/>
<circle cx="356.0" cy="187.5" r="2.2" fill="#1818ff" stroke="#0000c0" stroke-width="0.4"/>
<circle cx="336.1" cy="206.6" r="2.2" fill="#1818ff" stroke="#0000c0" stroke-width="0.4"/>
<circle cx="352.0" cy="194.5" r="2.2" fill="#1818ff" stroke="#0000c0" stroke-width="0.4"/>
<circle cx="355.7" cy="178.7" r="2.2" fill="#1818ff" stroke="#0000c0" stroke-width="0.4"/>
<circle cx="355.8" cy="182.0" r="2.2" fill="#1818ff" stroke="#0000c0" stroke-width="0.4"/>
<circle cx="329.1" cy="201.0" r="2.2" fill="#1818ff" stroke="#0000c0" stroke-width="0.4"/>
<circle cx="345.0" cy="201.7" r="2.2" fill="#1818ff" stroke="#0000c0" stroke-width="0.4"/>
<circle cx="367.7" cy="171.7" r="2.2" fill="#1818ff" stroke="#0000c0" stroke-width="0.4"/>
<circle cx="370.6" cy="165.7" r="2.2" fill="#1818ff" stroke="#0000c0" stroke-width="0.4"/>
<circle cx="347.0" cy="189.8" r="2.2" fill="#1818ff" stroke="#0000c0" stroke-width="0.4"/>
<circle cx="377.6" cy="170.7" r="2.2" fill="#1818ff" stroke="#0000c0" stroke-width="0.4"/>
<circle cx="345.3" cy="185.3" r="2.2" fill="#1818ff" stroke="#0000c0" stroke-width="0.4"/>
<circle cx="344.3" cy="190.9" r="2.2" fill="#1818ff" stroke="#0000c0" stroke-width="0.4"/>
<circle cx="351.1" cy="177.8" r="2.2" fill="#1818ff" stroke="#0000c0" stroke-width="0.4"/>
<circle cx="379.8" cy="174.8" r="2.2" fill="#1818ff" stroke="#0000c0" stroke-width="0.4"/>
<circle cx="349.4" cy="179.7" r="2.2" fill="#1818ff" stroke="#0000c0" stroke-width="0.4"/>
<circle cx="347.8" cy="185.7" r="2.2" fill="#1818ff" stroke="#0000c0" stroke-width="0.4"/>
<circle cx="382.3" cy="157.4" r="2.2" fill="#1818ff" stroke="#0000c0" stroke-width="0.4"/>
<circle cx="354.8" cy="175.1" r="2.2" fill="#1818ff" stroke="#0000c0" stroke-width="0.4"/>
<circle cx="351.3" cy="179.5" r="2.2" fill="#1818ff" stroke="#0000c0" stroke-width="0.4"/>
<circle cx="360.4" cy="171.6" r="2.2" fill="#1818ff" stroke="#0000c0" stroke-width="0.4"/>
<circle cx="376.9" cy="160.9" r="2.2" fill="#1818ff" stroke="#0000c0" stroke-width="0.4"/>
<circle cx="336.8" cy="199.3" r="2.2" fill="#1818ff" stroke="#0000c0" stroke-width="0.4"/>
<circle cx="338.2" cy="193.8" r="2.2" fill="#1818ff" stroke="#0000c0" stroke-width="0.4"/>
<circle cx="344.9" cy="189.3" r="2.2" fill="#1818ff" stroke="#0000c0" stroke-width="0.4"/>
<circle cx="371.4" cy="175.7" r="2.2" fill="#1818ff" stroke="#0000c0" stroke-width="0.4"/>
<circle cx="386.7" cy="154.0" r="2.2" fill="#1818ff" stroke="#0000c0" stroke-width="0.4"/>
<circle cx="361.4" cy="182.9" r="2.2" fill="#1818ff" stroke="#0000c0" stroke-width="0.4"/>
<circle cx="380.2" cy="162.7" r="2.2" fill="#1818ff" stroke="#0000c0" stroke-width="0.4"/>
<circle cx="334.8" cy="195.9" r="2.2" fill="#1818ff" stroke="#0000c0" stroke-width="0.4"/>
<circle cx="329.6" cy="198.8" r="2.2" fill="#1818ff" stroke="#0000c0" stroke-width="0.4"/>
<circle cx="328.9" cy="208.7" r="2.2" fill="#1818ff" stroke="#0000c0" stroke-width="0.4"/>
<circle cx="341.2" cy="202.3" r="2.2" fill="#1818ff" stroke="#0000c0" stroke-width="0.4"/>
<circle cx="353.7" cy="182.6" r="2.2" fill="#1818ff" stroke="#0000c0" stroke-width="0.4"/>
<circle cx="334.2" cy="204.2" r="2.2" fill="#1818ff" stroke="#0000c0" stroke-width="0.4"/>
<circle cx="317.1" cy="208.8" r="2.2" fill="#1818ff" stroke="#0000c0" stroke-width="0.4"/>
<circle cx="359.4" cy="192.4" r="2.2" fill="#1818ff" stroke="#0000c0" stroke-width="0.4"/>
<circle cx="335.1" cy="202.1" r="2.2" fill="#1818ff" stroke="#0000c0" stroke-width="0.4"/>
<circle cx="345.8" cy="198.6" r="2.2" fill="#1818ff" stroke="#0000c0" stroke-width="0.4"/>
<circle cx="341.8" cy="186.4" r="2.2" fill="#1818ff" stroke="#0000c0" stroke-width="0.4"/>
<circle cx="342.9" cy="202.5" r="2.2" fill="#1818ff" stroke="#0000c0" stroke-width="0.4"/>
<circle cx="391.1" cy="160.2" r="2.2" fill="#1818ff" stroke="#0000c0" stroke-width="0.4"/>
<circle cx="364.0" cy="172.2" r="2.2" fill="#1818ff" stroke="#0000c0" stroke-width="0.4"/>
<circle cx="355.7" cy="191.6" r="2.2" fill="#1818ff" stroke="#0000c0" stroke-width="0.4"/>
<circle cx="350.0" cy="196.4" r="2.2" fill="#1818ff" stroke="#0000c0" stroke-width="0.4"/>
<circle cx="345.8" cy="196.2" r="2.2" fill="#1818ff" stroke="#0000c0" stroke-width="0.4"/>
<circle cx="331.5" cy="206.6" r="2.2" fill="#1818ff" stroke="#0000c0" stroke-width="0.4"/>
<circle cx="347.4" cy="200.1" r="2.2" fill="#1818ff" stroke="#0000c0" stroke-width="0.4"/>
<circle cx="374.9" cy="173.4" r="2.2" fill="#1818ff" stroke="#0000c0" stroke-width="0.4"/>
<circle cx="330.1" cy="204.2" r="2.2" fill="#1818ff" stroke="#0000c0" stroke-width="0.4"/>
<circle cx="366.8" cy="185.3" r="2.2" fill="#1818ff" stroke="#0000c0" stroke-width="0.4"/>
<circle cx="336.8" cy="202.5" r="2.2" fill="#1818ff" stroke="#0000c0" stroke-width="0.4"/>
<circle cx="379.7" cy="169.0" r="2.2" fill="#1818ff" stroke="#0000c0" stroke-width="0.4"/>
<circle cx="341.2" cy="184.7" r="2.2" fill="#1818ff" stroke="#0000c0" stroke-width="0.4"/>
<circle cx="331.9" cy="202.1" r="2.2" fill="#1818ff" stroke="#0000c0" stroke-width="0.4"/>
<circle cx="360.4" cy="173.8" r="2.2" fill="#1818ff" stroke="#0000c0" stroke-width="0.4"/>
<circle cx="354.9" cy="186.0" r="2.2" fill="#1818ff" stroke="#0000c0" stroke-width="0.4"/>
<circle cx="350.5" cy="192.0" r="2.2" fill="#1818ff" stroke="#0000c0" stroke-width="0.4"/>
<circle cx="330.8" cy="195.5" r="2.2" fill="#1818ff" stroke="#0000c0" stroke-width="0.4"/>
<circle cx="331.0" cy="193.4" r="2.2" fill="#1818ff" stroke="#0000c0" stroke-width="0.4"/>
<circle cx="327.7" cy="198.2" r="2.2" fill="#1818ff" stroke="#0000c0" stroke-width="0.4"/>
<circle cx="358.8" cy="180.8" r="2.2" fill="#1818ff" stroke="#0000c0" stroke-width="0.4"/>
<circle cx="350.7" cy="185.8" r="2.2" fill="#1818ff" stroke="#0000c0" stroke-width="0.4"/>
<circle cx="334.2" cy="189.9" r="2.2" fill="#1818ff" stroke="#0000c0" stroke-width="0.4"/>
<circle cx="326.8" cy="206.6" r="2.2" fill="#1818ff" stroke="#0000c0" stroke-width="0.4"/>
<circle cx="332.7" cy="191.3" r="2.2" fill="#1818ff" stroke="#0000c0" stroke-width="0.4"/>
<circle cx="385.9" cy="165.0" r="2.2" fill="#1818ff" stroke="#0000c0" stroke-width="0.4"/>
<circle cx="354.2" cy="188.0" r="2.2" fill="#1818ff" stroke="#0000c0" stroke-width="0.4"/>
<circle cx="347.0" cy="187.4" r="2.2" fill="#1818ff" stroke="#0000c0" stroke-width="0.4"/>
<circle cx="349.6" cy="193.6" r="2.2" fill="#1818ff" stroke="#0000c0" stroke-width="0.4"/>
<circle cx="324.0" cy="201.2" r="2.2" fill="#1818ff" stroke="#0000c0" stroke-width="0.4"/>
<circle cx="339.8" cy="188.4" r="2.2" fill="#1818ff" stroke="#0000c0" stroke-width="0.4"/>
<circle cx="356.4" cy="189.9" r="2.2" fill="#1818ff" stroke="#0000c0" stroke-width="0.4"/>
<circle cx="360.9" cy="190.3" r="2.2" fill="#1818ff" stroke="#0000c0" stroke-width="0.4"/>
<circle cx="336.8" cy="197.6" r="2.2" fill="#1818ff" stroke="#0000c0" stroke-width="0.4"/>
<circle cx="384.8" cy="158.2" r="2.2" fill="#1818ff" stroke="#0000c0" stroke-width="0.4"/>
<circle cx="343.6" cy="194.6" r="2.2" fill="#1818ff" stroke="#0000c0" stroke-width="0.4"/>
<circle cx="364.8" cy="178.4" r="2.2" fill="#1818ff" stroke="#0000c0" stroke-width="0.4"/>
<circle cx="365.6" cy="181.2" r="2.2" fill="#1818ff" stroke="#0000c0" stroke-width="0.4"/>
<circle cx="327.0" cy="199.8" r="2.2" fill="#1818ff" stroke="#0000c0" stroke-width="0.4"/>
<circle cx="346.6" cy="191.8" r="2.2" fill="#1818ff" stroke="#0000c0" stroke-width="0.4"/>
<circle cx="342.1" cy="191.1" r="2.2" fill="#1818ff" stroke="#0000c0" stroke-width="0.4"/>
<circle cx="358.7" cy="193.9" r="2.2" fill="#1818ff" stroke="#0000c0" stroke-width="0.4"/>
<circle cx="319.9" cy="207.0" r="2.2" fill="#1818ff" stroke="#0000c0" stroke-width="0.4"/>
<circle cx="347.9" cy="182.2" r="2.2" fill="#1818ff" stroke="#0000c0" stroke-width="0.4"/>
<circle cx="321.8" cy="205.9" r="2.2" fill="#1818ff" stroke="#0000c0" stroke-width="0.4"/>
<circle cx="384.4" cy="163.0" r="2.2" fill="#1818ff" stroke="#0000c0" stroke-width="0.4"/>
<circle cx="330.9" cy="197.4" r="2.2" fill="#1818ff" stroke="#0000c0" stroke-width="0.4"/>
<circle cx="336.1" cy="193.9" r="2.2" fill="#1818ff" stroke="#0000c0" stroke-width="0.4"/>
<circle cx="324.7" cy="208.3" r="2.2" fill="#1818ff" stroke="#0000c0" stroke-width="0.4"/>
<circle cx="356.5" cy="194.7" r="2.2" fill="#1818ff" stroke="#0000c0" stroke-width="0.4"/>
<circle cx="340.0" cy="194.5" r="2.2" fill="#1818ff" stroke="#0000c0" stroke-width="0.4"/>
<circle cx="370.4" cy="182.1" r="2.2" fill="#1818ff" stroke="#0000c0" stroke-width="0.4"/>
<circle cx="350.6" cy="189.1" r="2.2" fill="#1818ff" stroke="#0000c0" stroke-width="0.4"/>
<circle cx="374.6" cy="176.2" r="2.2" fill="#1818ff" stroke="#0000c0" stroke-width="0.4"/>
<circle cx="329.1" cy="196.0" r="2.2" fill="#1818ff" stroke="#0000c0" stroke-width="0.4"/>
<circle cx="333.3" cy="206.7" r="2.2" fill="#1818ff" stroke="#0000c0" stroke-width="0.4"/>
<circle cx="365.9" cy="172.6" r="2.2" fill="#1818ff" stroke="#0000c0" stroke-width="0.4"/>
<circle cx="357.6" cy="177.4" r="2.2" fill="#1818ff" stroke="#0000c0" stroke-width="0.4"/>
<circle cx="332.9" cy="196.0" r="2.2" fill="#1818ff" stroke="#0000c0" stroke-width="0.4"/>
<circle cx="354.0" cy="191.1" r="2.2" fill="#1818ff" stroke="#0000c0" stroke-width="0.4"/>
<circle cx="326.9" cy="209.7" r="2.2" fill="#1818ff" stroke="#0000c0" stroke-width="0.4"/>
<circle cx="368.5" cy="173.3" r="2.2" fill="#1818ff" stroke="#0000c0" stroke-width="0.4"/>
<circle cx="342.9" cy="188.6" r="2.2" fill="#1818ff" stroke="#0000c0" stroke-width="0.4"/>
<circle cx="322.8" cy="207.7" r="2.2" fill="#1818ff" stroke="#0000c0" stroke-width="0.4"/>
<circle cx="349.4" cy="199.0" r="2.2" fill="#1818ff" stroke="#0000c0" stroke-width="0.4"/>
<circle cx="359.8" cy="177.1" r="2.2" fill="#1818ff" stroke="#0000c0" stroke-width="0.4"/>
<circle cx="345.1" cy="192.6" r="2.2" fill="#1818ff" stroke="#0000c0" stroke-width="0.4"/>
<circle cx="360.6" cy="175.6" r="2.2" fill="#1818ff" stroke="#0000c0" stroke-width="0.4"/>
<circle cx="322.6" cy="202.9" r="2.2" fill="#1818ff" stroke="#0000c0" stroke-width="0.4"/>
<circle cx="372.6" cy="163.0" r="2.2" fill="#1818ff" stroke="#0000c0" stroke-width="0.4"/>
<circle cx="383.3" cy="171.7" r="2.2" fill="#1818ff" stroke="#0000c0" stroke-width="0.4"/>
<circle cx="343.4" cy="187.0" r="2.2" fill="#1818ff" stroke="#0000c0" stroke-width="0.4"/>
<circle cx="336.3" cy="204.8" r="2.2" fill="#1818ff" stroke="#0000c0" stroke-width="0.4"/>
<circle cx="359.7" cy="184.2" r="2.2" fill="#1818ff" stroke="#0000c0" stroke-width="0.4"/>
<circle cx="366.9" cy="175.9" r="2.2" fill="#1818ff" stroke="#0000c0" stroke-width="0.4"/>
<circle cx="366.9" cy="180.0" r="2.2" fill="#1818ff" stroke="#0000c0" stroke-width="0.4"/>
<circle cx="342.4" cy="192.9" r="2.2" fill="#1818ff" stroke="#0000c0" stroke-width="0.4"/>
<circle cx="325.1" cy="206.2" r="2.2" fill="#1818ff" stroke="#0000c0" stroke-width="0.4"/>
<circle cx="361.8" cy="180.9" r="2.2" fill="#1818ff" stroke="#0000c0" stroke-width="0.4"/>
<circle cx="362.7" cy="184.3" r="2.2" fill="#1818ff" stroke="#0000c0" stroke-width="0.4"/>
<circle cx="358.0" cy="187.5" r="2.2" fill="#1818ff" stroke="#0000c0" stroke-width="0.4"/>
<circle cx="337.4" cy="196.0" r="2.2" fill="#1818ff" stroke="#0000c0" stroke-width="0.4"/>
<circle cx="354.8" cy="180.3" r="2.2" fill="#1818ff" stroke="#0000c0" stroke-width="0.4"/>
<circle cx="342.9" cy="200.4" r="2.2" fill="#1818ff" stroke="#0000c0" stroke-width="0.4"/>
<circle cx="321.5" cy="209.1" r="2.2" fill="#1818ff" stroke="#0000c0" stroke-width="0.4"/>
<circle cx="336.9" cy="189.4" r="2.2" fill="#1818ff" stroke="#0000c0" stroke-width="0.4"/>
<circle cx="354.3" cy="194.4" r="2.2" fill="#1818ff" stroke="#0000c0" stroke-width="0.4"/>
<circle cx="389.0" cy="162.7" r="2.2" fill="#1818ff" stroke="#0000c0" stroke-width="0.4"/>
<circle cx="325.5" cy="202.7" r="2.2" fill="#1818ff" stroke="#0000c0" stroke-width="0.4"/>
<circle cx="363.8" cy="186.7" r="2.2" fill="#1818ff" stroke="#0000c0" stroke-width="0.4"/>
<circle cx="351.0" cy="183.6" r="2.2" fill="#1818ff" stroke="#0000c0" stroke-width="0.4"/>
<circle cx="333.2" cy="193.5" r="2.2" fill="#1818ff" stroke="#0000c0" stroke-width="0.4"/>
<circle cx="325.3" cy="199.7" r="2.2" fill="#1818ff" stroke="#0000c0" stroke-width="0.4"/>
<circle cx="339.8" cy="192.1" r="2.2" fill="#1818ff" stroke="#0000c0" stroke-width="0.4"/>
<circle cx="356.4" cy="193.1" r="2.2" fill="#1818ff" stroke="#0000c0" stroke-width="0.4"/>
<circle cx="366.2" cy="167.8" r="2.2" fill="#1818ff" stroke="#0000c0" stroke-width="0.4"/>
<circle cx="333.5" cy="202.4" r="2.2" fill="#1818ff" stroke="#0000c0" stroke-width="0.4"/>
<circle cx="335.7" cy="190.9" r="2.2" fill="#1818ff" stroke="#0000c0" stroke-width="0.4"/>
<circle cx="387.3" cy="166.3" r="2.2" fill="#1818ff" stroke="#0000c0" stroke-width="0.4"/>
<circle cx="383.7" cy="160.9" r="2.2" fill="#1818ff" stroke="#0000c0" stroke-width="0.4"/>
<circle cx="388.7" cy="153.3" r="2.2" fill="#1818ff" stroke="#0000c0" stroke-width="0.4"/>
<circle cx="355.2" cy="184.3" r="2.2" fill="#1818ff" stroke="#0000c0" stroke-width="0.4"/>
<circle cx="353.5" cy="196.8" r="2.2" fill="#1818ff" stroke="#0000c0" stroke-width="0.4"/>
<circle cx="386.7" cy="164.0" r="2.2" fill="#f01414" fill-opacity="0.45"/>
<circle cx="365.9" cy="180.9" r="2.2" fill="#f01414" fill-opacity="0.45"/>
<circle cx="329.6" cy="204.4" r="2.2" fill="#f01414" fill-opacity="0.45"/>
<circle cx="352.2" cy="183.7" r="2.2" fill="#f01414" fill-opacity="0.45"/>
<circle cx="376.4" cy="174.3" r="2.2" fill="#f01414" fill-opacity="0.45"/>
<circle cx="357.9" cy="183.6" r="2.2" fill="#f01414" fill-opacity="0.45"/>
<circle cx="346.7" cy="199.6" r="2.2" fill="#f01414" fill-opacity="0.45"/>
<circle cx="382.5" cy="168.8" r="2.2" fill="#f01414" fill-opacity="0.45"/>
<circle cx="347.0" cy="182.7" r="2.2" fill="#f01414" fill-opacity="0.45"/>
<circle cx="327.1" cy="197.1" r="2.2" fill="#f01414" fill-opacity="0.45"/>
<circle cx="368.7" cy="172.0" r="2.2" fill="#f01414" fill-opacity="0.45"/>
<circle cx="379.2" cy="177.7" r="2.2" fill="#f01414" fill-opacity="0.45"/>
<circle cx="377.7" cy="169.9" r="2.2" fill="#f01414" fill-opacity="0.45"/>
<circle cx="342.9" cy="192.7" r="2.2" fill="#f01414" fill-opacity="0.45"/>
<circle cx="357.0" cy="174.5" r="2.2" fill="#f01414" fill-opacity="0.45"/>
<circle cx="385.9" cy="154.6" r="2.2" fill="#f01414" fill-opacity="0.45"/>
<circle cx="334.0" cy="198.2" r="2.2" fill="#f01414" fill-opacity="0.45"/>
</g>
<line x1="312.20" y1="191.86" x2="451.44" y2="52.90" stroke="#111" stroke-width="1.3" stroke-dasharray="1.2 1.4"/>
<line x1="327.64" y1="216.10" x2="480.40" y2="63.64" stroke="#111" stroke-width="1.3" stroke-dasharray="1.2 1.4"/>
<line x1="312.20" y1="202.98" x2="480.10" y2="73.70" stroke="#111" stroke-width="1.2" stroke-dasharray="4.2 1.9"/>
<line x1="330.73" y1="216.10" x2="479.70" y2="100.20" stroke="#111" stroke-width="1.2" stroke-dasharray="4.2 1.9"/>
<path d="M29.50 53.70V217.50H197.40" fill="none" stroke="#262626" stroke-width="1.0"/>
<line x1="31.92" y1="217.50" x2="31.92" y2="219.50" stroke="#262626" stroke-width="0.7"/>
<line x1="40.01" y1="217.50" x2="40.01" y2="219.50" stroke="#262626" stroke-width="0.7"/>
<line x1="46.29" y1="217.50" x2="46.29" y2="219.50" stroke="#262626" stroke-width="0.7"/>
<line x1="51.42" y1="217.50" x2="51.42" y2="219.50" stroke="#262626" stroke-width="0.7"/>
<line x1="55.76" y1="217.50" x2="55.76" y2="219.50" stroke="#262626" stroke-width="0.7"/>
<line x1="59.52" y1="217.50" x2="59.52" y2="219.50" stroke="#262626" stroke-width="0.7"/>
<line x1="62.83" y1="217.50" x2="62.83" y2="219.50" stroke="#262626" stroke-width="0.7"/>
<line x1="65.80" y1="217.50" x2="65.80" y2="221.00" stroke="#262626" stroke-width="0.9"/>
<line x1="85.31" y1="217.50" x2="85.31" y2="219.50" stroke="#262626" stroke-width="0.7"/>
<line x1="96.72" y1="217.50" x2="96.72" y2="219.50" stroke="#262626" stroke-width="0.7"/>
<line x1="104.81" y1="217.50" x2="104.81" y2="219.50" stroke="#262626" stroke-width="0.7"/>
<line x1="111.09" y1="217.50" x2="111.09" y2="219.50" stroke="#262626" stroke-width="0.7"/>
<line x1="116.22" y1="217.50" x2="116.22" y2="219.50" stroke="#262626" stroke-width="0.7"/>
<line x1="120.56" y1="217.50" x2="120.56" y2="219.50" stroke="#262626" stroke-width="0.7"/>
<line x1="124.32" y1="217.50" x2="124.32" y2="219.50" stroke="#262626" stroke-width="0.7"/>
<line x1="127.63" y1="217.50" x2="127.63" y2="219.50" stroke="#262626" stroke-width="0.7"/>
<line x1="130.60" y1="217.50" x2="130.60" y2="221.00" stroke="#262626" stroke-width="0.9"/>
<line x1="150.11" y1="217.50" x2="150.11" y2="219.50" stroke="#262626" stroke-width="0.7"/>
<line x1="161.52" y1="217.50" x2="161.52" y2="219.50" stroke="#262626" stroke-width="0.7"/>
<line x1="169.61" y1="217.50" x2="169.61" y2="219.50" stroke="#262626" stroke-width="0.7"/>
<line x1="175.89" y1="217.50" x2="175.89" y2="219.50" stroke="#262626" stroke-width="0.7"/>
<line x1="181.02" y1="217.50" x2="181.02" y2="219.50" stroke="#262626" stroke-width="0.7"/>
<line x1="185.36" y1="217.50" x2="185.36" y2="219.50" stroke="#262626" stroke-width="0.7"/>
<line x1="189.12" y1="217.50" x2="189.12" y2="219.50" stroke="#262626" stroke-width="0.7"/>
<line x1="192.43" y1="217.50" x2="192.43" y2="219.50" stroke="#262626" stroke-width="0.7"/>
<line x1="195.40" y1="217.50" x2="195.40" y2="221.00" stroke="#262626" stroke-width="0.9"/>
<line x1="29.50" y1="213.67" x2="27.50" y2="213.67" stroke="#262626" stroke-width="0.7"/>
<line x1="29.50" y1="203.47" x2="27.50" y2="203.47" stroke="#262626" stroke-width="0.7"/>
<line x1="29.50" y1="196.24" x2="27.50" y2="196.24" stroke="#262626" stroke-width="0.7"/>
<line x1="29.50" y1="190.63" x2="27.50" y2="190.63" stroke="#262626" stroke-width="0.7"/>
<line x1="29.50" y1="186.05" x2="27.50" y2="186.05" stroke="#262626" stroke-width="0.7"/>
<line x1="29.50" y1="182.17" x2="27.50" y2="182.17" stroke="#262626" stroke-width="0.7"/>
<line x1="29.50" y1="178.81" x2="27.50" y2="178.81" stroke="#262626" stroke-width="0.7"/>
<line x1="29.50" y1="175.85" x2="27.50" y2="175.85" stroke="#262626" stroke-width="0.7"/>
<line x1="29.50" y1="173.20" x2="26.00" y2="173.20" stroke="#262626" stroke-width="0.9"/>
<line x1="29.50" y1="155.77" x2="27.50" y2="155.77" stroke="#262626" stroke-width="0.7"/>
<line x1="29.50" y1="145.57" x2="27.50" y2="145.57" stroke="#262626" stroke-width="0.7"/>
<line x1="29.50" y1="138.34" x2="27.50" y2="138.34" stroke="#262626" stroke-width="0.7"/>
<line x1="29.50" y1="132.73" x2="27.50" y2="132.73" stroke="#262626" stroke-width="0.7"/>
<line x1="29.50" y1="128.15" x2="27.50" y2="128.15" stroke="#262626" stroke-width="0.7"/>
<line x1="29.50" y1="124.27" x2="27.50" y2="124.27" stroke="#262626" stroke-width="0.7"/>
<line x1="29.50" y1="120.91" x2="27.50" y2="120.91" stroke="#262626" stroke-width="0.7"/>
<line x1="29.50" y1="117.95" x2="27.50" y2="117.95" stroke="#262626" stroke-width="0.7"/>
<line x1="29.50" y1="115.30" x2="26.00" y2="115.30" stroke="#262626" stroke-width="0.9"/>
<line x1="29.50" y1="97.87" x2="27.50" y2="97.87" stroke="#262626" stroke-width="0.7"/>
<line x1="29.50" y1="87.67" x2="27.50" y2="87.67" stroke="#262626" stroke-width="0.7"/>
<line x1="29.50" y1="80.44" x2="27.50" y2="80.44" stroke="#262626" stroke-width="0.7"/>
<line x1="29.50" y1="74.83" x2="27.50" y2="74.83" stroke="#262626" stroke-width="0.7"/>
<line x1="29.50" y1="70.25" x2="27.50" y2="70.25" stroke="#262626" stroke-width="0.7"/>
<line x1="29.50" y1="66.37" x2="27.50" y2="66.37" stroke="#262626" stroke-width="0.7"/>
<line x1="29.50" y1="63.01" x2="27.50" y2="63.01" stroke="#262626" stroke-width="0.7"/>
<line x1="29.50" y1="60.05" x2="27.50" y2="60.05" stroke="#262626" stroke-width="0.7"/>
<line x1="29.50" y1="57.40" x2="26.00" y2="57.40" stroke="#262626" stroke-width="0.9"/>
<text x="60.10" y="228.40" font-size="8.7" font-family='"Liberation Serif", serif' fill="#1e1e1e" stroke="#1e1e1e" stroke-width="0.2" textLength="7.8" lengthAdjust="spacingAndGlyphs">10</text>
<text x="68.70" y="225.50" font-size="5.7" font-family='"Liberation Serif", serif' fill="#1e1e1e" stroke="#1e1e1e" stroke-width="0.1" textLength="3.0" lengthAdjust="spacingAndGlyphs">0</text>
<text x="124.90" y="228.40" font-size="8.7" font-family='"Liberation Serif", serif' fill="#1e1e1e" stroke="#1e1e1e" stroke-width="0.2" textLength="7.8" lengthAdjust="spacingAndGlyphs">10</text>
<text x="133.50" y="225.50" font-size="5.7" font-family='"Liberation Serif", serif' fill="#1e1e1e" stroke="#1e1e1e" stroke-width="0.1" textLength="3.0" lengthAdjust="spacingAndGlyphs">1</text>
<text x="189.70" y="228.40" font-size="8.7" font-family='"Liberation Serif", serif' fill="#1e1e1e" stroke="#1e1e1e" stroke-width="0.2" textLength="7.8" lengthAdjust="spacingAndGlyphs">10</text>
<text x="198.30" y="225.50" font-size="5.7" font-family='"Liberation Serif", serif' fill="#1e1e1e" stroke="#1e1e1e" stroke-width="0.1" textLength="3.0" lengthAdjust="spacingAndGlyphs">2</text>
<text x="11.90" y="176.10" font-size="8.7" font-family='"Liberation Serif", serif' fill="#1e1e1e" stroke="#1e1e1e" stroke-width="0.2" textLength="7.8" lengthAdjust="spacingAndGlyphs">10</text>
<text x="20.50" y="173.20" font-size="5.7" font-family='"Liberation Serif", serif' fill="#1e1e1e" stroke="#1e1e1e" stroke-width="0.1" textLength="3.0" lengthAdjust="spacingAndGlyphs">0</text>
<text x="11.90" y="118.20" font-size="8.7" font-family='"Liberation Serif", serif' fill="#1e1e1e" stroke="#1e1e1e" stroke-width="0.2" textLength="7.8" lengthAdjust="spacingAndGlyphs">10</text>
<text x="20.50" y="115.30" font-size="5.7" font-family='"Liberation Serif", serif' fill="#1e1e1e" stroke="#1e1e1e" stroke-width="0.1" textLength="3.0" lengthAdjust="spacingAndGlyphs">1</text>
<text x="11.90" y="60.30" font-size="8.7" font-family='"Liberation Serif", serif' fill="#1e1e1e" stroke="#1e1e1e" stroke-width="0.2" textLength="7.8" lengthAdjust="spacingAndGlyphs">10</text>
<text x="20.50" y="57.40" font-size="5.7" font-family='"Liberation Serif", serif' fill="#1e1e1e" stroke="#1e1e1e" stroke-width="0.1" textLength="3.0" lengthAdjust="spacingAndGlyphs">2</text>
<text x="94.00" y="238.30" font-size="7.4" font-family='"Liberation Sans", sans-serif' fill="#1e1e1e" textLength="9.40" lengthAdjust="spacingAndGlyphs" stroke="#1e1e1e" stroke-width="0.1">[<tspan font-style="italic">&#954;</tspan>]</text>
<text x="111.80" y="238.30" font-size="7.4" font-family='"Liberation Sans", sans-serif' fill="#1e1e1e" textLength="21.40" lengthAdjust="spacingAndGlyphs" stroke="#1e1e1e" stroke-width="0.1">(g/dL)</text>
<g transform="translate(6.40 153.00) rotate(-90)">
<text x="0.00" y="0.00" font-size="7.4" font-family='"Liberation Sans", sans-serif' fill="#1e1e1e" textLength="9.40" lengthAdjust="spacingAndGlyphs" stroke="#1e1e1e" stroke-width="0.1">[<tspan font-style="italic">&#955;</tspan>]</text>
<text x="17.80" y="0.00" font-size="7.4" font-family='"Liberation Sans", sans-serif' fill="#1e1e1e" textLength="21.40" lengthAdjust="spacingAndGlyphs" stroke="#1e1e1e" stroke-width="0.1">(g/dL)</text>
</g>
<path d="M312.50 52.40V216.50H480.40" fill="none" stroke="#262626" stroke-width="1.0"/>
<line x1="316.90" y1="216.50" x2="316.90" y2="218.50" stroke="#262626" stroke-width="0.7"/>
<line x1="320.82" y1="216.50" x2="320.82" y2="218.50" stroke="#262626" stroke-width="0.7"/>
<line x1="324.13" y1="216.50" x2="324.13" y2="218.50" stroke="#262626" stroke-width="0.7"/>
<line x1="327.00" y1="216.50" x2="327.00" y2="218.50" stroke="#262626" stroke-width="0.7"/>
<line x1="329.54" y1="216.50" x2="329.54" y2="218.50" stroke="#262626" stroke-width="0.7"/>
<line x1="331.80" y1="216.50" x2="331.80" y2="220.00" stroke="#262626" stroke-width="0.9"/>
<line x1="346.70" y1="216.50" x2="346.70" y2="218.50" stroke="#262626" stroke-width="0.7"/>
<line x1="355.42" y1="216.50" x2="355.42" y2="218.50" stroke="#262626" stroke-width="0.7"/>
<line x1="361.60" y1="216.50" x2="361.60" y2="218.50" stroke="#262626" stroke-width="0.7"/>
<line x1="366.40" y1="216.50" x2="366.40" y2="218.50" stroke="#262626" stroke-width="0.7"/>
<line x1="370.32" y1="216.50" x2="370.32" y2="218.50" stroke="#262626" stroke-width="0.7"/>
<line x1="373.63" y1="216.50" x2="373.63" y2="218.50" stroke="#262626" stroke-width="0.7"/>
<line x1="376.50" y1="216.50" x2="376.50" y2="218.50" stroke="#262626" stroke-width="0.7"/>
<line x1="379.04" y1="216.50" x2="379.04" y2="218.50" stroke="#262626" stroke-width="0.7"/>
<line x1="381.30" y1="216.50" x2="381.30" y2="220.00" stroke="#262626" stroke-width="0.9"/>
<line x1="396.20" y1="216.50" x2="396.20" y2="218.50" stroke="#262626" stroke-width="0.7"/>
<line x1="404.92" y1="216.50" x2="404.92" y2="218.50" stroke="#262626" stroke-width="0.7"/>
<line x1="411.10" y1="216.50" x2="411.10" y2="218.50" stroke="#262626" stroke-width="0.7"/>
<line x1="415.90" y1="216.50" x2="415.90" y2="218.50" stroke="#262626" stroke-width="0.7"/>
<line x1="419.82" y1="216.50" x2="419.82" y2="218.50" stroke="#262626" stroke-width="0.7"/>
<line x1="423.13" y1="216.50" x2="423.13" y2="218.50" stroke="#262626" stroke-width="0.7"/>
<line x1="426.00" y1="216.50" x2="426.00" y2="218.50" stroke="#262626" stroke-width="0.7"/>
<line x1="428.54" y1="216.50" x2="428.54" y2="218.50" stroke="#262626" stroke-width="0.7"/>
<line x1="430.80" y1="216.50" x2="430.80" y2="220.00" stroke="#262626" stroke-width="0.9"/>
<line x1="445.70" y1="216.50" x2="445.70" y2="218.50" stroke="#262626" stroke-width="0.7"/>
<line x1="454.42" y1="216.50" x2="454.42" y2="218.50" stroke="#262626" stroke-width="0.7"/>
<line x1="460.60" y1="216.50" x2="460.60" y2="218.50" stroke="#262626" stroke-width="0.7"/>
<line x1="465.40" y1="216.50" x2="465.40" y2="218.50" stroke="#262626" stroke-width="0.7"/>
<line x1="469.32" y1="216.50" x2="469.32" y2="218.50" stroke="#262626" stroke-width="0.7"/>
<line x1="472.63" y1="216.50" x2="472.63" y2="218.50" stroke="#262626" stroke-width="0.7"/>
<line x1="475.50" y1="216.50" x2="475.50" y2="218.50" stroke="#262626" stroke-width="0.7"/>
<line x1="478.04" y1="216.50" x2="478.04" y2="218.50" stroke="#262626" stroke-width="0.7"/>
<line x1="480.30" y1="216.50" x2="480.30" y2="220.00" stroke="#262626" stroke-width="0.9"/>
<line x1="312.50" y1="216.07" x2="310.50" y2="216.07" stroke="#262626" stroke-width="0.7"/>
<line x1="312.50" y1="212.16" x2="310.50" y2="212.16" stroke="#262626" stroke-width="0.7"/>
<line x1="312.50" y1="208.85" x2="310.50" y2="208.85" stroke="#262626" stroke-width="0.7"/>
<line x1="312.50" y1="205.99" x2="310.50" y2="205.99" stroke="#262626" stroke-width="0.7"/>
<line x1="312.50" y1="203.46" x2="310.50" y2="203.46" stroke="#262626" stroke-width="0.7"/>
<line x1="312.50" y1="201.20" x2="309.00" y2="201.20" stroke="#262626" stroke-width="0.9"/>
<line x1="312.50" y1="186.33" x2="310.50" y2="186.33" stroke="#262626" stroke-width="0.7"/>
<line x1="312.50" y1="177.63" x2="310.50" y2="177.63" stroke="#262626" stroke-width="0.7"/>
<line x1="312.50" y1="171.46" x2="310.50" y2="171.46" stroke="#262626" stroke-width="0.7"/>
<line x1="312.50" y1="166.67" x2="310.50" y2="166.67" stroke="#262626" stroke-width="0.7"/>
<line x1="312.50" y1="162.76" x2="310.50" y2="162.76" stroke="#262626" stroke-width="0.7"/>
<line x1="312.50" y1="159.45" x2="310.50" y2="159.45" stroke="#262626" stroke-width="0.7"/>
<line x1="312.50" y1="156.59" x2="310.50" y2="156.59" stroke="#262626" stroke-width="0.7"/>
<line x1="312.50" y1="154.06" x2="310.50" y2="154.06" stroke="#262626" stroke-width="0.7"/>
<line x1="312.50" y1="151.80" x2="309.00" y2="151.80" stroke="#262626" stroke-width="0.9"/>
<line x1="312.50" y1="136.93" x2="310.50" y2="136.93" stroke="#262626" stroke-width="0.7"/>
<line x1="312.50" y1="128.23" x2="310.50" y2="128.23" stroke="#262626" stroke-width="0.7"/>
<line x1="312.50" y1="122.06" x2="310.50" y2="122.06" stroke="#262626" stroke-width="0.7"/>
<line x1="312.50" y1="117.27" x2="310.50" y2="117.27" stroke="#262626" stroke-width="0.7"/>
<line x1="312.50" y1="113.36" x2="310.50" y2="113.36" stroke="#262626" stroke-width="0.7"/>
<line x1="312.50" y1="110.05" x2="310.50" y2="110.05" stroke="#262626" stroke-width="0.7"/>
<line x1="312.50" y1="107.19" x2="310.50" y2="107.19" stroke="#262626" stroke-width="0.7"/>
<line x1="312.50" y1="104.66" x2="310.50" y2="104.66" stroke="#262626" stroke-width="0.7"/>
<line x1="312.50" y1="102.40" x2="309.00" y2="102.40" stroke="#262626" stroke-width="0.9"/>
<line x1="312.50" y1="87.53" x2="310.50" y2="87.53" stroke="#262626" stroke-width="0.7"/>
<line x1="312.50" y1="78.83" x2="310.50" y2="78.83" stroke="#262626" stroke-width="0.7"/>
<line x1="312.50" y1="72.66" x2="310.50" y2="72.66" stroke="#262626" stroke-width="0.7"/>
<line x1="312.50" y1="67.87" x2="310.50" y2="67.87" stroke="#262626" stroke-width="0.7"/>
<line x1="312.50" y1="63.96" x2="310.50" y2="63.96" stroke="#262626" stroke-width="0.7"/>
<line x1="312.50" y1="60.65" x2="310.50" y2="60.65" stroke="#262626" stroke-width="0.7"/>
<line x1="312.50" y1="57.79" x2="310.50" y2="57.79" stroke="#262626" stroke-width="0.7"/>
<line x1="312.50" y1="55.26" x2="310.50" y2="55.26" stroke="#262626" stroke-width="0.7"/>
<line x1="312.50" y1="53.00" x2="309.00" y2="53.00" stroke="#262626" stroke-width="0.9"/>
<text x="326.10" y="227.60" font-size="8.7" font-family='"Liberation Serif", serif' fill="#1e1e1e" stroke="#1e1e1e" stroke-width="0.2" textLength="7.8" lengthAdjust="spacingAndGlyphs">10</text>
<text x="334.70" y="224.70" font-size="5.7" font-family='"Liberation Serif", serif' fill="#1e1e1e" stroke="#1e1e1e" stroke-width="0.1" textLength="3.0" lengthAdjust="spacingAndGlyphs">0</text>
<text x="375.60" y="227.60" font-size="8.7" font-family='"Liberation Serif", serif' fill="#1e1e1e" stroke="#1e1e1e" stroke-width="0.2" textLength="7.8" lengthAdjust="spacingAndGlyphs">10</text>
<text x="384.20" y="224.70" font-size="5.7" font-family='"Liberation Serif", serif' fill="#1e1e1e" stroke="#1e1e1e" stroke-width="0.1" textLength="3.0" lengthAdjust="spacingAndGlyphs">1</text>
<text x="425.10" y="227.60" font-size="8.7" font-family='"Liberation Serif", serif' fill="#1e1e1e" stroke="#1e1e1e" stroke-width="0.2" textLength="7.8" lengthAdjust="spacingAndGlyphs">10</text>
<text x="433.70" y="224.70" font-size="5.7" font-family='"Liberation Serif", serif' fill="#1e1e1e" stroke="#1e1e1e" stroke-width="0.1" textLength="3.0" lengthAdjust="spacingAndGlyphs">2</text>
<text x="474.60" y="227.60" font-size="8.7" font-family='"Liberation Serif", serif' fill="#1e1e1e" stroke="#1e1e1e" stroke-width="0.2" textLength="7.8" lengthAdjust="spacingAndGlyphs">10</text>
<text x="483.20" y="224.70" font-size="5.7" font-family='"Liberation Serif", serif' fill="#1e1e1e" stroke="#1e1e1e" stroke-width="0.1" textLength="3.0" lengthAdjust="spacingAndGlyphs">3</text>
<text x="293.90" y="204.10" font-size="8.7" font-family='"Liberation Serif", serif' fill="#1e1e1e" stroke="#1e1e1e" stroke-width="0.2" textLength="7.8" lengthAdjust="spacingAndGlyphs">10</text>
<text x="302.50" y="201.20" font-size="5.7" font-family='"Liberation Serif", serif' fill="#1e1e1e" stroke="#1e1e1e" stroke-width="0.1" textLength="3.0" lengthAdjust="spacingAndGlyphs">0</text>
<text x="293.90" y="154.70" font-size="8.7" font-family='"Liberation Serif", serif' fill="#1e1e1e" stroke="#1e1e1e" stroke-width="0.2" textLength="7.8" lengthAdjust="spacingAndGlyphs">10</text>
<text x="302.50" y="151.80" font-size="5.7" font-family='"Liberation Serif", serif' fill="#1e1e1e" stroke="#1e1e1e" stroke-width="0.1" textLength="3.0" lengthAdjust="spacingAndGlyphs">1</text>
<text x="293.90" y="105.30" font-size="8.7" font-family='"Liberation Serif", serif' fill="#1e1e1e" stroke="#1e1e1e" stroke-width="0.2" textLength="7.8" lengthAdjust="spacingAndGlyphs">10</text>
<text x="302.50" y="102.40" font-size="5.7" font-family='"Liberation Serif", serif' fill="#1e1e1e" stroke="#1e1e1e" stroke-width="0.1" textLength="3.0" lengthAdjust="spacingAndGlyphs">2</text>
<text x="293.90" y="55.90" font-size="8.7" font-family='"Liberation Serif", serif' fill="#1e1e1e" stroke="#1e1e1e" stroke-width="0.2" textLength="7.8" lengthAdjust="spacingAndGlyphs">10</text>
<text x="302.50" y="53.00" font-size="5.7" font-family='"Liberation Serif", serif' fill="#1e1e1e" stroke="#1e1e1e" stroke-width="0.1" textLength="3.0" lengthAdjust="spacingAndGlyphs">3</text>
<text x="376.50" y="237.60" font-size="7.4" font-family='"Liberation Sans", sans-serif' fill="#1e1e1e" textLength="9.40" lengthAdjust="spacingAndGlyphs" stroke="#1e1e1e" stroke-width="0.1">[<tspan font-style="italic">&#954;</tspan>]</text>
<text x="394.30" y="237.60" font-size="7.4" font-family='"Liberation Sans", sans-serif' fill="#1e1e1e" textLength="21.40" lengthAdjust="spacingAndGlyphs" stroke="#1e1e1e" stroke-width="0.1">(g/dL)</text>
<g transform="translate(289.10 153.60) rotate(-90)">
<text x="0.00" y="0.00" font-size="7.4" font-family='"Liberation Sans", sans-serif' fill="#1e1e1e" textLength="9.40" lengthAdjust="spacingAndGlyphs" stroke="#1e1e1e" stroke-width="0.1">[<tspan font-style="italic">&#955;</tspan>]</text>
<text x="17.80" y="0.00" font-size="7.4" font-family='"Liberation Sans", sans-serif' fill="#1e1e1e" textLength="21.40" lengthAdjust="spacingAndGlyphs" stroke="#1e1e1e" stroke-width="0.1">(g/dL)</text>
</g>
<text x="367.90" y="41.30" font-size="6.6" font-family='"Liberation Sans", sans-serif' fill="#1a1a1a" textLength="69.30" lengthAdjust="spacingAndGlyphs" >Manufacturer's interval</text>
<text x="437.20" y="48.00" font-size="6.6" font-family='"Liberation Sans", sans-serif' fill="#1a1a1a" text-anchor="end" textLength="55.40" lengthAdjust="spacingAndGlyphs" >sFLC &#8712; [0.26,1.65]</text>
<line x1="431.6" y1="50.5" x2="436.3" y2="63.0" stroke="#111" stroke-width="0.7"/>
<path d="M437.0 64.8 L434.6 60.6 L436.9 59.9 Z" fill="#111"/>
<text x="432.00" y="148.20" font-size="6.6" font-family='"Liberation Sans", sans-serif' fill="#1a1a1a" textLength="53.20" lengthAdjust="spacingAndGlyphs" >Proposed interval</text>
<text x="432.0" y="154.8" font-size="6.6" font-family='"Liberation Sans", sans-serif' fill="#1a1a1a" textLength="80.5" lengthAdjust="spacingAndGlyphs">proj<tspan font-size="4.4" dy="1.2">PC1</tspan><tspan dy="-1.2">(&#954;,&#955;) &#8712; [&#8722;0.64,0.59]</tspan></text>
<line x1="452.3" y1="142.0" x2="446.8" y2="129.5" stroke="#111" stroke-width="0.7"/>
<path d="M446.1 127.9 L448.7 131.7 L446.3 132.6 Z" fill="#111"/>
<rect x="33.7" y="57.2" width="41.8" height="79.1" rx="1.6" fill="#fff" fill-opacity="0.8" stroke="#d4d4d4" stroke-width="0.8"/>
<text x="44.30" y="66.20" font-size="7.6" font-family='"Liberation Sans", sans-serif' fill="#141414" textLength="19.90" lengthAdjust="spacingAndGlyphs" stroke="#141414" stroke-width="0.12">eGFR</text>
<circle cx="44.0" cy="74.50" r="2.4" fill="#24152b" stroke="#fff" stroke-width="0.3"/>
<text x="58.00" y="77.00" font-size="7.6" font-family='"Liberation Sans", sans-serif' fill="#141414" textLength="9.30" lengthAdjust="spacingAndGlyphs" stroke="#141414" stroke-width="0.12">20</text>
<circle cx="44.0" cy="85.55" r="2.4" fill="#731c50" stroke="#fff" stroke-width="0.3"/>
<text x="58.00" y="88.05" font-size="7.6" font-family='"Liberation Sans", sans-serif' fill="#141414" textLength="9.30" lengthAdjust="spacingAndGlyphs" stroke="#141414" stroke-width="0.12">40</text>
<circle cx="44.0" cy="96.60" r="2.4" fill="#c01a58" stroke="#fff" stroke-width="0.3"/>
<text x="58.00" y="99.10" font-size="7.6" font-family='"Liberation Sans", sans-serif' fill="#141414" textLength="9.30" lengthAdjust="spacingAndGlyphs" stroke="#141414" stroke-width="0.12">60</text>
<circle cx="44.0" cy="107.65" r="2.4" fill="#e5484f" stroke="#fff" stroke-width="0.3"/>
<text x="58.00" y="110.15" font-size="7.6" font-family='"Liberation Sans", sans-serif' fill="#141414" textLength="9.30" lengthAdjust="spacingAndGlyphs" stroke="#141414" stroke-width="0.12">80</text>
<circle cx="44.0" cy="118.70" r="2.4" fill="#dcae98" stroke="#fff" stroke-width="0.3"/>
<text x="58.00" y="121.20" font-size="7.6" font-family='"Liberation Sans", sans-serif' fill="#141414" textLength="13.95" lengthAdjust="spacingAndGlyphs" stroke="#141414" stroke-width="0.12">100</text>
<circle cx="44.0" cy="129.75" r="2.4" fill="#f5e2d8" stroke="#fff" stroke-width="0.3"/>
<text x="58.00" y="132.25" font-size="7.6" font-family='"Liberation Sans", sans-serif' fill="#141414" textLength="13.95" lengthAdjust="spacingAndGlyphs" stroke="#141414" stroke-width="0.12">120</text>
<rect x="302.2" y="24.2" width="56.6" height="24.0" rx="1.6" fill="#fff" fill-opacity="0.8" stroke="#d4d4d4" stroke-width="0.8"/>
<circle cx="312.9" cy="31.1" r="2.0" fill="#e01414" stroke="#b00000" stroke-width="0.5"/>
<circle cx="312.9" cy="41.6" r="2.0" fill="#1414e0" stroke="#0000a0" stroke-width="0.5"/>
<text x="327.00" y="33.20" font-size="7.6" font-family='"Liberation Sans", sans-serif' fill="#141414" textLength="11.60" lengthAdjust="spacingAndGlyphs" stroke="#141414" stroke-width="0.12">MG</text>
<text x="327.00" y="43.80" font-size="7.6" font-family='"Liberation Sans", sans-serif' fill="#141414" textLength="28.20" lengthAdjust="spacingAndGlyphs" stroke="#141414" stroke-width="0.12">non-MG</text>
</svg>
</body></html>
